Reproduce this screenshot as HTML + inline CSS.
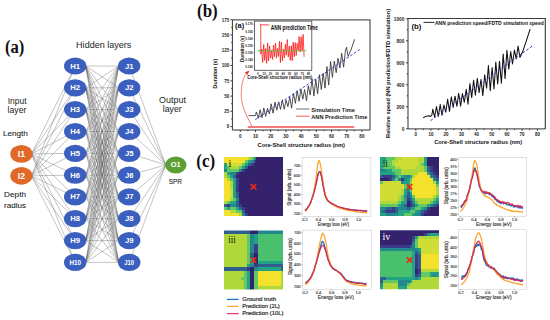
<!DOCTYPE html>
<html><head><meta charset="utf-8"><style>
html,body{margin:0;padding:0;background:#fff;}
svg{display:block;font-family:"Liberation Sans",sans-serif;}
</style></head><body>
<svg width="550" height="320" viewBox="0 0 550 320">
<rect width="550" height="320" fill="#fff"/>
<g stroke="#5a5a5a" stroke-width="0.45" fill="none" stroke-opacity="0.8">
<line x1="31.4" y1="153.9" x2="75.2" y2="66.0"/>
<line x1="31.4" y1="153.9" x2="75.2" y2="87.8"/>
<line x1="31.4" y1="153.9" x2="75.2" y2="109.6"/>
<line x1="31.4" y1="153.9" x2="75.2" y2="131.5"/>
<line x1="31.4" y1="153.9" x2="75.2" y2="153.3"/>
<line x1="31.4" y1="153.9" x2="75.2" y2="175.1"/>
<line x1="31.4" y1="153.9" x2="75.2" y2="196.9"/>
<line x1="31.4" y1="153.9" x2="75.2" y2="218.7"/>
<line x1="31.4" y1="153.9" x2="75.2" y2="240.6"/>
<line x1="31.4" y1="153.9" x2="75.2" y2="262.4"/>
<line x1="31.4" y1="175.8" x2="75.2" y2="66.0"/>
<line x1="31.4" y1="175.8" x2="75.2" y2="87.8"/>
<line x1="31.4" y1="175.8" x2="75.2" y2="109.6"/>
<line x1="31.4" y1="175.8" x2="75.2" y2="131.5"/>
<line x1="31.4" y1="175.8" x2="75.2" y2="153.3"/>
<line x1="31.4" y1="175.8" x2="75.2" y2="175.1"/>
<line x1="31.4" y1="175.8" x2="75.2" y2="196.9"/>
<line x1="31.4" y1="175.8" x2="75.2" y2="218.7"/>
<line x1="31.4" y1="175.8" x2="75.2" y2="240.6"/>
<line x1="31.4" y1="175.8" x2="75.2" y2="262.4"/>
<line x1="85.7" y1="66.0" x2="118.7" y2="66.0"/>
<line x1="85.7" y1="66.0" x2="118.7" y2="87.8"/>
<line x1="85.7" y1="66.0" x2="118.7" y2="109.6"/>
<line x1="85.7" y1="66.0" x2="118.7" y2="131.5"/>
<line x1="85.7" y1="66.0" x2="118.7" y2="153.3"/>
<line x1="85.7" y1="66.0" x2="118.7" y2="175.1"/>
<line x1="85.7" y1="66.0" x2="118.7" y2="196.9"/>
<line x1="85.7" y1="66.0" x2="118.7" y2="218.7"/>
<line x1="85.7" y1="66.0" x2="118.7" y2="240.6"/>
<line x1="85.7" y1="66.0" x2="118.7" y2="262.4"/>
<line x1="85.7" y1="87.8" x2="118.7" y2="66.0"/>
<line x1="85.7" y1="87.8" x2="118.7" y2="87.8"/>
<line x1="85.7" y1="87.8" x2="118.7" y2="109.6"/>
<line x1="85.7" y1="87.8" x2="118.7" y2="131.5"/>
<line x1="85.7" y1="87.8" x2="118.7" y2="153.3"/>
<line x1="85.7" y1="87.8" x2="118.7" y2="175.1"/>
<line x1="85.7" y1="87.8" x2="118.7" y2="196.9"/>
<line x1="85.7" y1="87.8" x2="118.7" y2="218.7"/>
<line x1="85.7" y1="87.8" x2="118.7" y2="240.6"/>
<line x1="85.7" y1="87.8" x2="118.7" y2="262.4"/>
<line x1="85.7" y1="109.6" x2="118.7" y2="66.0"/>
<line x1="85.7" y1="109.6" x2="118.7" y2="87.8"/>
<line x1="85.7" y1="109.6" x2="118.7" y2="109.6"/>
<line x1="85.7" y1="109.6" x2="118.7" y2="131.5"/>
<line x1="85.7" y1="109.6" x2="118.7" y2="153.3"/>
<line x1="85.7" y1="109.6" x2="118.7" y2="175.1"/>
<line x1="85.7" y1="109.6" x2="118.7" y2="196.9"/>
<line x1="85.7" y1="109.6" x2="118.7" y2="218.7"/>
<line x1="85.7" y1="109.6" x2="118.7" y2="240.6"/>
<line x1="85.7" y1="109.6" x2="118.7" y2="262.4"/>
<line x1="85.7" y1="131.5" x2="118.7" y2="66.0"/>
<line x1="85.7" y1="131.5" x2="118.7" y2="87.8"/>
<line x1="85.7" y1="131.5" x2="118.7" y2="109.6"/>
<line x1="85.7" y1="131.5" x2="118.7" y2="131.5"/>
<line x1="85.7" y1="131.5" x2="118.7" y2="153.3"/>
<line x1="85.7" y1="131.5" x2="118.7" y2="175.1"/>
<line x1="85.7" y1="131.5" x2="118.7" y2="196.9"/>
<line x1="85.7" y1="131.5" x2="118.7" y2="218.7"/>
<line x1="85.7" y1="131.5" x2="118.7" y2="240.6"/>
<line x1="85.7" y1="131.5" x2="118.7" y2="262.4"/>
<line x1="85.7" y1="153.3" x2="118.7" y2="66.0"/>
<line x1="85.7" y1="153.3" x2="118.7" y2="87.8"/>
<line x1="85.7" y1="153.3" x2="118.7" y2="109.6"/>
<line x1="85.7" y1="153.3" x2="118.7" y2="131.5"/>
<line x1="85.7" y1="153.3" x2="118.7" y2="153.3"/>
<line x1="85.7" y1="153.3" x2="118.7" y2="175.1"/>
<line x1="85.7" y1="153.3" x2="118.7" y2="196.9"/>
<line x1="85.7" y1="153.3" x2="118.7" y2="218.7"/>
<line x1="85.7" y1="153.3" x2="118.7" y2="240.6"/>
<line x1="85.7" y1="153.3" x2="118.7" y2="262.4"/>
<line x1="85.7" y1="175.1" x2="118.7" y2="66.0"/>
<line x1="85.7" y1="175.1" x2="118.7" y2="87.8"/>
<line x1="85.7" y1="175.1" x2="118.7" y2="109.6"/>
<line x1="85.7" y1="175.1" x2="118.7" y2="131.5"/>
<line x1="85.7" y1="175.1" x2="118.7" y2="153.3"/>
<line x1="85.7" y1="175.1" x2="118.7" y2="175.1"/>
<line x1="85.7" y1="175.1" x2="118.7" y2="196.9"/>
<line x1="85.7" y1="175.1" x2="118.7" y2="218.7"/>
<line x1="85.7" y1="175.1" x2="118.7" y2="240.6"/>
<line x1="85.7" y1="175.1" x2="118.7" y2="262.4"/>
<line x1="85.7" y1="196.9" x2="118.7" y2="66.0"/>
<line x1="85.7" y1="196.9" x2="118.7" y2="87.8"/>
<line x1="85.7" y1="196.9" x2="118.7" y2="109.6"/>
<line x1="85.7" y1="196.9" x2="118.7" y2="131.5"/>
<line x1="85.7" y1="196.9" x2="118.7" y2="153.3"/>
<line x1="85.7" y1="196.9" x2="118.7" y2="175.1"/>
<line x1="85.7" y1="196.9" x2="118.7" y2="196.9"/>
<line x1="85.7" y1="196.9" x2="118.7" y2="218.7"/>
<line x1="85.7" y1="196.9" x2="118.7" y2="240.6"/>
<line x1="85.7" y1="196.9" x2="118.7" y2="262.4"/>
<line x1="85.7" y1="218.7" x2="118.7" y2="66.0"/>
<line x1="85.7" y1="218.7" x2="118.7" y2="87.8"/>
<line x1="85.7" y1="218.7" x2="118.7" y2="109.6"/>
<line x1="85.7" y1="218.7" x2="118.7" y2="131.5"/>
<line x1="85.7" y1="218.7" x2="118.7" y2="153.3"/>
<line x1="85.7" y1="218.7" x2="118.7" y2="175.1"/>
<line x1="85.7" y1="218.7" x2="118.7" y2="196.9"/>
<line x1="85.7" y1="218.7" x2="118.7" y2="218.7"/>
<line x1="85.7" y1="218.7" x2="118.7" y2="240.6"/>
<line x1="85.7" y1="218.7" x2="118.7" y2="262.4"/>
<line x1="85.7" y1="240.6" x2="118.7" y2="66.0"/>
<line x1="85.7" y1="240.6" x2="118.7" y2="87.8"/>
<line x1="85.7" y1="240.6" x2="118.7" y2="109.6"/>
<line x1="85.7" y1="240.6" x2="118.7" y2="131.5"/>
<line x1="85.7" y1="240.6" x2="118.7" y2="153.3"/>
<line x1="85.7" y1="240.6" x2="118.7" y2="175.1"/>
<line x1="85.7" y1="240.6" x2="118.7" y2="196.9"/>
<line x1="85.7" y1="240.6" x2="118.7" y2="218.7"/>
<line x1="85.7" y1="240.6" x2="118.7" y2="240.6"/>
<line x1="85.7" y1="240.6" x2="118.7" y2="262.4"/>
<line x1="85.7" y1="262.4" x2="118.7" y2="66.0"/>
<line x1="85.7" y1="262.4" x2="118.7" y2="87.8"/>
<line x1="85.7" y1="262.4" x2="118.7" y2="109.6"/>
<line x1="85.7" y1="262.4" x2="118.7" y2="131.5"/>
<line x1="85.7" y1="262.4" x2="118.7" y2="153.3"/>
<line x1="85.7" y1="262.4" x2="118.7" y2="175.1"/>
<line x1="85.7" y1="262.4" x2="118.7" y2="196.9"/>
<line x1="85.7" y1="262.4" x2="118.7" y2="218.7"/>
<line x1="85.7" y1="262.4" x2="118.7" y2="240.6"/>
<line x1="85.7" y1="262.4" x2="118.7" y2="262.4"/>
<line x1="129.2" y1="66.0" x2="165.8" y2="165.0"/>
<line x1="129.2" y1="87.8" x2="165.8" y2="165.0"/>
<line x1="129.2" y1="109.6" x2="165.8" y2="165.0"/>
<line x1="129.2" y1="131.5" x2="165.8" y2="165.0"/>
<line x1="129.2" y1="153.3" x2="165.8" y2="165.0"/>
<line x1="129.2" y1="175.1" x2="165.8" y2="165.0"/>
<line x1="129.2" y1="196.9" x2="165.8" y2="165.0"/>
<line x1="129.2" y1="218.7" x2="165.8" y2="165.0"/>
<line x1="129.2" y1="240.6" x2="165.8" y2="165.0"/>
<line x1="129.2" y1="262.4" x2="165.8" y2="165.0"/>
</g>
<ellipse cx="75.2" cy="66.0" rx="11.2" ry="8.6" fill="#3b5fbf"/>
<text x="75.2" y="68.5" font-size="6.9" fill="#fff" font-weight="bold" text-anchor="middle" textLength="9.8" lengthAdjust="spacingAndGlyphs">H1</text>
<ellipse cx="129.2" cy="66.0" rx="11.2" ry="8.6" fill="#3b5fbf"/>
<text x="129.2" y="68.5" font-size="6.9" fill="#fff" font-weight="bold" text-anchor="middle" textLength="8.6" lengthAdjust="spacingAndGlyphs">J1</text>
<ellipse cx="75.2" cy="87.8" rx="11.2" ry="8.6" fill="#3b5fbf"/>
<text x="75.2" y="90.3" font-size="6.9" fill="#fff" font-weight="bold" text-anchor="middle" textLength="9.8" lengthAdjust="spacingAndGlyphs">H2</text>
<ellipse cx="129.2" cy="87.8" rx="11.2" ry="8.6" fill="#3b5fbf"/>
<text x="129.2" y="90.3" font-size="6.9" fill="#fff" font-weight="bold" text-anchor="middle" textLength="8.6" lengthAdjust="spacingAndGlyphs">J2</text>
<ellipse cx="75.2" cy="109.6" rx="11.2" ry="8.6" fill="#3b5fbf"/>
<text x="75.2" y="112.1" font-size="6.9" fill="#fff" font-weight="bold" text-anchor="middle" textLength="9.8" lengthAdjust="spacingAndGlyphs">H3</text>
<ellipse cx="129.2" cy="109.6" rx="11.2" ry="8.6" fill="#3b5fbf"/>
<text x="129.2" y="112.1" font-size="6.9" fill="#fff" font-weight="bold" text-anchor="middle" textLength="8.6" lengthAdjust="spacingAndGlyphs">J3</text>
<ellipse cx="75.2" cy="131.5" rx="11.2" ry="8.6" fill="#3b5fbf"/>
<text x="75.2" y="134.0" font-size="6.9" fill="#fff" font-weight="bold" text-anchor="middle" textLength="9.8" lengthAdjust="spacingAndGlyphs">H4</text>
<ellipse cx="129.2" cy="131.5" rx="11.2" ry="8.6" fill="#3b5fbf"/>
<text x="129.2" y="134.0" font-size="6.9" fill="#fff" font-weight="bold" text-anchor="middle" textLength="8.6" lengthAdjust="spacingAndGlyphs">J4</text>
<ellipse cx="75.2" cy="153.3" rx="11.2" ry="8.6" fill="#3b5fbf"/>
<text x="75.2" y="155.8" font-size="6.9" fill="#fff" font-weight="bold" text-anchor="middle" textLength="9.8" lengthAdjust="spacingAndGlyphs">H5</text>
<ellipse cx="129.2" cy="153.3" rx="11.2" ry="8.6" fill="#3b5fbf"/>
<text x="129.2" y="155.8" font-size="6.9" fill="#fff" font-weight="bold" text-anchor="middle" textLength="8.6" lengthAdjust="spacingAndGlyphs">J5</text>
<ellipse cx="75.2" cy="175.1" rx="11.2" ry="8.6" fill="#3b5fbf"/>
<text x="75.2" y="177.6" font-size="6.9" fill="#fff" font-weight="bold" text-anchor="middle" textLength="9.8" lengthAdjust="spacingAndGlyphs">H6</text>
<ellipse cx="129.2" cy="175.1" rx="11.2" ry="8.6" fill="#3b5fbf"/>
<text x="129.2" y="177.6" font-size="6.9" fill="#fff" font-weight="bold" text-anchor="middle" textLength="8.6" lengthAdjust="spacingAndGlyphs">J6</text>
<ellipse cx="75.2" cy="196.9" rx="11.2" ry="8.6" fill="#3b5fbf"/>
<text x="75.2" y="199.4" font-size="6.9" fill="#fff" font-weight="bold" text-anchor="middle" textLength="9.8" lengthAdjust="spacingAndGlyphs">H7</text>
<ellipse cx="129.2" cy="196.9" rx="11.2" ry="8.6" fill="#3b5fbf"/>
<text x="129.2" y="199.4" font-size="6.9" fill="#fff" font-weight="bold" text-anchor="middle" textLength="8.6" lengthAdjust="spacingAndGlyphs">J7</text>
<ellipse cx="75.2" cy="218.7" rx="11.2" ry="8.6" fill="#3b5fbf"/>
<text x="75.2" y="221.2" font-size="6.9" fill="#fff" font-weight="bold" text-anchor="middle" textLength="9.8" lengthAdjust="spacingAndGlyphs">H8</text>
<ellipse cx="129.2" cy="218.7" rx="11.2" ry="8.6" fill="#3b5fbf"/>
<text x="129.2" y="221.2" font-size="6.9" fill="#fff" font-weight="bold" text-anchor="middle" textLength="8.6" lengthAdjust="spacingAndGlyphs">J8</text>
<ellipse cx="75.2" cy="240.6" rx="11.2" ry="8.6" fill="#3b5fbf"/>
<text x="75.2" y="243.1" font-size="6.9" fill="#fff" font-weight="bold" text-anchor="middle" textLength="9.8" lengthAdjust="spacingAndGlyphs">H9</text>
<ellipse cx="129.2" cy="240.6" rx="11.2" ry="8.6" fill="#3b5fbf"/>
<text x="129.2" y="243.1" font-size="6.9" fill="#fff" font-weight="bold" text-anchor="middle" textLength="8.6" lengthAdjust="spacingAndGlyphs">J9</text>
<ellipse cx="75.2" cy="262.4" rx="11.2" ry="8.6" fill="#3b5fbf"/>
<text x="75.2" y="264.7" font-size="6.4" fill="#fff" font-weight="bold" text-anchor="middle" textLength="11.6" lengthAdjust="spacingAndGlyphs">H10</text>
<ellipse cx="129.2" cy="262.4" rx="11.2" ry="8.6" fill="#3b5fbf"/>
<text x="129.2" y="264.7" font-size="6.4" fill="#fff" font-weight="bold" text-anchor="middle" textLength="9.8" lengthAdjust="spacingAndGlyphs">J10</text>
<ellipse cx="21.4" cy="153.9" rx="11.1" ry="8.9" fill="#e0692a"/>
<text x="21.4" y="157.1" font-size="8.8" fill="#fff" font-weight="bold" text-anchor="middle" textLength="7.2" lengthAdjust="spacingAndGlyphs">I1</text>
<ellipse cx="21.4" cy="175.8" rx="11.1" ry="8.9" fill="#e0692a"/>
<text x="21.4" y="179.0" font-size="8.8" fill="#fff" font-weight="bold" text-anchor="middle" textLength="7.2" lengthAdjust="spacingAndGlyphs">I2</text>
<ellipse cx="175.8" cy="165.0" rx="10.7" ry="8.6" fill="#5c9f32"/>
<text x="175.8" y="167.4" font-size="6.9" fill="#fff" font-weight="bold" text-anchor="middle" textLength="10" lengthAdjust="spacingAndGlyphs">O1</text>
<text x="76.1" y="47.6" font-size="9" fill="#222" textLength="55.3" lengthAdjust="spacingAndGlyphs">Hidden layers</text>
<text x="7.75" y="103.75" font-size="8.2" fill="#222" textLength="18.75" lengthAdjust="spacingAndGlyphs">Input</text>
<text x="7.6" y="112.75" font-size="8.2" fill="#222" textLength="18.8" lengthAdjust="spacingAndGlyphs">layer</text>
<text x="2.9" y="135.6" font-size="7.2" fill="#222" textLength="25" lengthAdjust="spacingAndGlyphs" stroke="#222" stroke-width="0.08">Length</text>
<text x="4.1" y="197" font-size="7.3" fill="#222" textLength="21.9" lengthAdjust="spacingAndGlyphs" stroke="#222" stroke-width="0.08">Depth</text>
<text x="4.1" y="208" font-size="7.3" fill="#222" textLength="21.9" lengthAdjust="spacingAndGlyphs" stroke="#222" stroke-width="0.08">radius</text>
<text x="159.1" y="103" font-size="8.2" fill="#222" textLength="26.8" lengthAdjust="spacingAndGlyphs">Output</text>
<text x="162.7" y="112.3" font-size="8.2" fill="#222" textLength="19.1" lengthAdjust="spacingAndGlyphs">layer</text>
<text x="168.75" y="183.75" font-size="6.9" fill="#222" textLength="13.1" lengthAdjust="spacingAndGlyphs" stroke="#222" stroke-width="0.08">SPR</text>
<text x="5" y="53.3" font-size="19.3" font-weight="bold" fill="#111" textLength="19.4" lengthAdjust="spacingAndGlyphs" style='font-family:"Liberation Serif",serif'>(a)</text>
<text x="197" y="17.4" font-size="19.6" font-weight="bold" fill="#111" textLength="20.7" lengthAdjust="spacingAndGlyphs" style='font-family:"Liberation Serif",serif'>(b)</text>
<text x="196.3" y="167" font-size="19.4" font-weight="bold" fill="#111" textLength="18.75" lengthAdjust="spacingAndGlyphs" style='font-family:"Liberation Serif",serif'>(c)</text>
<path d="M232.4 19.8H370.0V130.0" fill="none" stroke="#5a5a5a" stroke-width="1.25"/>
<path d="M232.4 19.8V130.0H370.0" fill="none" stroke="#333" stroke-width="1"/>
<text x="229.3" y="128.3" font-size="4.8" fill="#222" font-weight="bold" text-anchor="end" textLength="2.5" lengthAdjust="spacingAndGlyphs">0</text>
<text x="229.3" y="113.1" font-size="4.8" fill="#222" font-weight="bold" text-anchor="end" textLength="5.0" lengthAdjust="spacingAndGlyphs">25</text>
<text x="229.3" y="97.8" font-size="4.8" fill="#222" font-weight="bold" text-anchor="end" textLength="5.0" lengthAdjust="spacingAndGlyphs">50</text>
<text x="229.3" y="82.5" font-size="4.8" fill="#222" font-weight="bold" text-anchor="end" textLength="5.0" lengthAdjust="spacingAndGlyphs">75</text>
<text x="229.3" y="67.3" font-size="4.8" fill="#222" font-weight="bold" text-anchor="end" textLength="7.5" lengthAdjust="spacingAndGlyphs">100</text>
<text x="229.3" y="52.0" font-size="4.8" fill="#222" font-weight="bold" text-anchor="end" textLength="7.5" lengthAdjust="spacingAndGlyphs">125</text>
<text x="229.3" y="36.7" font-size="4.8" fill="#222" font-weight="bold" text-anchor="end" textLength="7.5" lengthAdjust="spacingAndGlyphs">150</text>
<text x="229.3" y="21.5" font-size="4.8" fill="#222" font-weight="bold" text-anchor="end" textLength="7.5" lengthAdjust="spacingAndGlyphs">175</text>
<text x="240.3" y="138.1" font-size="4.6" fill="#222" font-weight="bold" text-anchor="middle">0</text>
<text x="255.5" y="138.1" font-size="4.6" fill="#222" font-weight="bold" text-anchor="middle">10</text>
<text x="270.7" y="138.1" font-size="4.6" fill="#222" font-weight="bold" text-anchor="middle">20</text>
<text x="285.9" y="138.1" font-size="4.6" fill="#222" font-weight="bold" text-anchor="middle">30</text>
<text x="301.1" y="138.1" font-size="4.6" fill="#222" font-weight="bold" text-anchor="middle">40</text>
<text x="316.3" y="138.1" font-size="4.6" fill="#222" font-weight="bold" text-anchor="middle">50</text>
<text x="331.5" y="138.1" font-size="4.6" fill="#222" font-weight="bold" text-anchor="middle">60</text>
<text x="346.7" y="138.1" font-size="4.6" fill="#222" font-weight="bold" text-anchor="middle">70</text>
<text x="361.9" y="138.1" font-size="4.6" fill="#222" font-weight="bold" text-anchor="middle">80</text>
<path d="M232.4 126.6h-2 M232.4 119.0h-1.2 M232.4 111.3h-2 M232.4 103.7h-1.2 M232.4 96.1h-2 M232.4 88.4h-1.2 M232.4 80.8h-2 M232.4 73.2h-1.2 M232.4 65.5h-2 M232.4 57.9h-1.2 M232.4 50.2h-2 M232.4 42.6h-1.2 M232.4 35.0h-2 M232.4 27.3h-1.2 M232.4 19.7h-2 M240.3 130.0v2 M247.9 130.0v1.2 M255.5 130.0v2 M263.1 130.0v1.2 M270.7 130.0v2 M278.3 130.0v1.2 M285.9 130.0v2 M293.5 130.0v1.2 M301.1 130.0v2 M308.7 130.0v1.2 M316.3 130.0v2 M323.9 130.0v1.2 M331.5 130.0v2 M339.1 130.0v1.2 M346.7 130.0v2 M354.3 130.0v1.2 M361.9 130.0v2" stroke="#222" stroke-width="0.85"/>
<text x="257.6" y="146.5" font-size="6.2" fill="#111" font-weight="bold" textLength="87.4" lengthAdjust="spacingAndGlyphs">Core-Shell structure radius (nm)</text>
<text transform="translate(216.7 73.6) rotate(-90)" font-size="5.6" fill="#111" font-weight="bold" text-anchor="middle" textLength="29.6" lengthAdjust="spacingAndGlyphs">Duration (s)</text>
<polyline fill="none" stroke="#333" stroke-width="0.85" stroke-linejoin="round" points="248.7,115.6 255.5,115.6 256.4,111.9 258.3,118.3 260.1,109.7 262.0,117.6 263.8,108.0 265.7,116.4 267.5,108.3 269.4,113.9 271.2,103.8 273.1,113.2 275.0,102.1 276.8,110.2 278.7,101.8 280.5,109.4 282.4,99.8 284.2,109.3 286.1,100.1 287.9,106.7 289.8,97.2 291.6,108.2 293.5,93.1 295.4,103.3 297.2,90.7 299.1,101.3 300.9,89.1 302.8,99.2 304.6,89.6 306.5,100.8 308.3,85.8 310.2,95.1 312.0,78.8 313.9,96.1 315.8,79.4 317.6,94.0 319.5,74.7 321.3,89.5 323.2,73.2 325.0,88.1 326.9,66.6 328.7,85.1 330.6,61.5 332.4,77.4 334.3,61.0 336.2,72.7 338.0,58.4 339.9,68.0 341.7,53.3 343.6,67.2 345.4,50.9 346.5,47.2 348.1,56.4 351.3,49.0 354.5,39.3"/>
<line x1="255.3" y1="119.6" x2="360.1" y2="49.3" stroke="#3040c8" stroke-width="1" stroke-dasharray="2.6,1.8"/>
<line x1="247.8" y1="127" x2="354.3" y2="127" stroke="#f05050" stroke-width="1.5"/>
<line x1="296.2" y1="109" x2="309.3" y2="109" stroke="#444" stroke-width="0.8"/>
<text x="311.3" y="111.5" font-size="5.9" fill="#1a1a1a" font-weight="bold" textLength="43.6" lengthAdjust="spacingAndGlyphs">Simulation Time</text>
<line x1="296.2" y1="116.2" x2="309.3" y2="116.2" stroke="#e83030" stroke-width="0.8"/>
<text x="311.3" y="118.5" font-size="5.9" fill="#1a1a1a" font-weight="bold" textLength="56" lengthAdjust="spacingAndGlyphs">ANN Prediction Time</text>
<path d="M252 126.5 C 246 115, 241.2 105, 241.2 95 C 241.2 85, 243 78, 246.5 73.5" fill="none" stroke="#f25a5a" stroke-width="0.8"/>
<path d="M249.6 70.6 L244.8 72.2 L247.3 75 Z" fill="#f03030"/>
<rect x="254.4" y="21.1" width="57.400000000000006" height="49.199999999999996" fill="#fff" stroke="#444" stroke-width="0.8"/>
<text x="252.8" y="25.4" font-size="3.0" fill="#222" font-weight="bold" text-anchor="end">0.170</text>
<text x="252.8" y="32.5" font-size="3.0" fill="#222" font-weight="bold" text-anchor="end">0.165</text>
<text x="252.8" y="39.5" font-size="3.0" fill="#222" font-weight="bold" text-anchor="end">0.160</text>
<text x="252.8" y="46.5" font-size="3.0" fill="#222" font-weight="bold" text-anchor="end">0.155</text>
<text x="252.8" y="53.5" font-size="3.0" fill="#222" font-weight="bold" text-anchor="end">0.150</text>
<text x="252.8" y="60.6" font-size="3.0" fill="#222" font-weight="bold" text-anchor="end">0.145</text>
<text x="252.8" y="67.6" font-size="3.0" fill="#222" font-weight="bold" text-anchor="end">0.140</text>
<text x="257.8" y="74.9" font-size="3.0" fill="#222" font-weight="bold" text-anchor="middle">0</text>
<text x="264.2" y="74.9" font-size="3.0" fill="#222" font-weight="bold" text-anchor="middle">10</text>
<text x="270.5" y="74.9" font-size="3.0" fill="#222" font-weight="bold" text-anchor="middle">20</text>
<text x="276.9" y="74.9" font-size="3.0" fill="#222" font-weight="bold" text-anchor="middle">30</text>
<text x="283.2" y="74.9" font-size="3.0" fill="#222" font-weight="bold" text-anchor="middle">40</text>
<text x="289.6" y="74.9" font-size="3.0" fill="#222" font-weight="bold" text-anchor="middle">50</text>
<text x="295.9" y="74.9" font-size="3.0" fill="#222" font-weight="bold" text-anchor="middle">60</text>
<text x="302.2" y="74.9" font-size="3.0" fill="#222" font-weight="bold" text-anchor="middle">70</text>
<text x="308.6" y="74.9" font-size="3.0" fill="#222" font-weight="bold" text-anchor="middle">80</text>
<path d="M254.4 24.4h-1 M254.4 31.5h-1 M254.4 38.5h-1 M254.4 45.5h-1 M254.4 52.5h-1 M254.4 59.6h-1 M254.4 66.6h-1 M257.8 70.3v1 M264.2 70.3v1 M270.5 70.3v1 M276.9 70.3v1 M283.2 70.3v1 M289.6 70.3v1 M295.9 70.3v1 M302.2 70.3v1 M308.6 70.3v1" stroke="#444" stroke-width="0.4"/>
<text x="247.2" y="78.9" font-size="4.8" fill="#111" font-weight="bold" textLength="65" lengthAdjust="spacingAndGlyphs">Core-Shell structure radius (nm)</text>
<text transform="translate(243.7 49) rotate(-90)" font-size="4.6" fill="#111" font-weight="bold" text-anchor="middle" textLength="26" lengthAdjust="spacingAndGlyphs">Duration (s)</text>
<text x="235" y="28.3" font-size="7.6" fill="#111" font-weight="bold">(a)</text>
<polyline fill="none" stroke="#ff1a1a" stroke-width="0.8" points="260.7,23.7 260.8,54.2 261.7,48.9 262.7,62.4 263.7,44.6 264.7,60.4 265.7,48.5 266.7,63.3 267.6,43.0 268.6,60.7 269.6,45.8 270.6,58.2 271.6,50.4 272.6,59.4 273.5,45.1 274.5,56.7 275.5,43.2 276.5,58.2 277.5,48.3 278.5,56.4 279.5,41.3 280.4,62.7 281.4,42.0 282.4,60.9 283.4,49.1 284.4,57.7 285.4,44.2 286.3,55.2 287.3,39.5 288.3,56.9 289.3,46.1 290.3,60.3 291.3,45.8 292.2,60.7 293.2,42.2 294.2,56.7 295.2,42.6 296.2,55.5 297.2,43.4 298.2,50.8 299.1,36.6 300.1,52.0 301.1,36.8 302.1,51.1 303.1,34.4 304.1,56.8"/>
<line x1="258" y1="50.8" x2="306" y2="50.8" stroke="#22dd22" stroke-width="1" stroke-dasharray="2.6,1.6"/>
<line x1="260.5" y1="24.9" x2="269.4" y2="24.9" stroke="#ff1a1a" stroke-width="0.8"/>
<text x="270.8" y="29.8" font-size="6.8" fill="#111" font-weight="bold" textLength="47.2" lengthAdjust="spacingAndGlyphs">ANN prediction Time</text>
<path d="M408.0 18.5H545.3V128.9" fill="none" stroke="#3a3a3a" stroke-width="1.1"/>
<path d="M408.0 18.5V128.9H545.3" fill="none" stroke="#333" stroke-width="1"/>
<text x="404.3" y="131.2" font-size="4.7" fill="#222" font-weight="bold" text-anchor="end">0</text>
<text x="404.3" y="109.2" font-size="4.7" fill="#222" font-weight="bold" text-anchor="end">200</text>
<text x="404.3" y="87.2" font-size="4.7" fill="#222" font-weight="bold" text-anchor="end">400</text>
<text x="404.3" y="65.2" font-size="4.7" fill="#222" font-weight="bold" text-anchor="end">600</text>
<text x="404.3" y="43.1" font-size="4.7" fill="#222" font-weight="bold" text-anchor="end">800</text>
<text x="404.3" y="21.1" font-size="4.7" fill="#222" font-weight="bold" text-anchor="end">1000</text>
<text x="415.8" y="135.7" font-size="4.5" fill="#222" font-weight="bold" text-anchor="middle">0</text>
<text x="430.9" y="135.7" font-size="4.5" fill="#222" font-weight="bold" text-anchor="middle">10</text>
<text x="446.1" y="135.7" font-size="4.5" fill="#222" font-weight="bold" text-anchor="middle">20</text>
<text x="461.4" y="135.7" font-size="4.5" fill="#222" font-weight="bold" text-anchor="middle">30</text>
<text x="476.6" y="135.7" font-size="4.5" fill="#222" font-weight="bold" text-anchor="middle">40</text>
<text x="491.8" y="135.7" font-size="4.5" fill="#222" font-weight="bold" text-anchor="middle">50</text>
<text x="506.9" y="135.7" font-size="4.5" fill="#222" font-weight="bold" text-anchor="middle">60</text>
<text x="522.1" y="135.7" font-size="4.5" fill="#222" font-weight="bold" text-anchor="middle">70</text>
<text x="537.4" y="135.7" font-size="4.5" fill="#222" font-weight="bold" text-anchor="middle">80</text>
<path d="M408.0 128.8h-2 M408.0 117.8h-1.2 M408.0 106.8h-2 M408.0 95.8h-1.2 M408.0 84.8h-2 M408.0 73.8h-1.2 M408.0 62.8h-2 M408.0 51.8h-1.2 M408.0 40.8h-2 M408.0 29.8h-1.2 M408.0 18.8h-2 M415.8 128.9v2 M423.4 128.9v1.2 M430.9 128.9v2 M438.6 128.9v1.2 M446.1 128.9v2 M453.8 128.9v1.2 M461.4 128.9v2 M468.9 128.9v1.2 M476.6 128.9v2 M484.1 128.9v1.2 M491.8 128.9v2 M499.4 128.9v1.2 M506.9 128.9v2 M514.5 128.9v1.2 M522.1 128.9v2 M529.8 128.9v1.2 M537.4 128.9v2" stroke="#222" stroke-width="0.85"/>
<text x="434.2" y="143.8" font-size="6.2" fill="#111" font-weight="bold" textLength="87.9" lengthAdjust="spacingAndGlyphs">Core-Shell structure radius (nm)</text>
<text transform="translate(389.6 73.4) rotate(-90)" font-size="5.7" fill="#111" font-weight="bold" text-anchor="middle" textLength="129" lengthAdjust="spacingAndGlyphs">Relative speed (NN prediction/FDTD simulation)</text>
<polyline fill="none" stroke="#111" stroke-width="1.05" stroke-linejoin="round" points="423.2,117.8 425.6,116.4 428.7,115.8 430.6,116.4 431.9,115.0 432.8,109.2 434.6,117.0 436.5,106.6 438.3,116.5 440.2,104.6 442.0,115.3 443.9,105.0 445.8,112.2 447.6,99.2 449.5,111.5 451.3,96.8 453.2,107.5 455.0,96.2 456.9,106.3 458.7,93.3 460.6,106.1 462.4,93.5 464.3,102.3 466.2,89.3 468.0,104.3 469.9,83.6 471.7,97.7 473.6,80.3 475.4,95.2 477.3,78.4 479.1,92.8 481.0,79.4 482.8,95.6 484.7,74.8 486.6,88.3 488.4,65.6 490.3,90.8 492.1,67.5 494.0,88.9 495.8,62.0 497.7,83.9 499.5,61.2 501.4,83.2 503.2,54.1 505.1,78.8 506.9,50.2 508.8,69.2 510.7,51.5 512.5,64.0 514.4,50.0 516.2,59.0 518.1,46.1 519.9,57.4 522.5,52.1 526.0,41.8 530.1,29.2"/>
<line x1="430.6" y1="120.6" x2="533.7" y2="45.0" stroke="#3040c8" stroke-width="1" stroke-dasharray="2.6,1.8"/>
<line x1="423.5" y1="22.4" x2="434.5" y2="22.4" stroke="#111" stroke-width="0.9"/>
<text x="435" y="24.9" font-size="5.0" fill="#111" font-weight="bold" textLength="108.7" lengthAdjust="spacingAndGlyphs">ANN prediction speed/FDTD simulation speed</text>
<text x="411.5" y="28.8" font-size="7.8" fill="#111" font-weight="bold">(b)</text>
<filter id="hb" x="-5%" y="-5%" width="110%" height="110%"><feGaussianBlur stdDeviation="0.55" edgeMode="duplicate"/></filter>
<clipPath id="c224157"><rect x="224" y="157" width="59" height="59"/></clipPath>
<g clip-path="url(#c224157)"><g filter="url(#hb)"><g shape-rendering="crispEdges">
<rect x="224.00" y="157.00" width="24.20" height="3.55" fill="#f4e12e"/>
<rect x="247.60" y="157.00" width="3.55" height="3.55" fill="#b0d83a"/>
<rect x="250.55" y="157.00" width="3.55" height="3.55" fill="#62c862"/>
<rect x="253.50" y="157.00" width="3.55" height="3.55" fill="#23888e"/>
<rect x="256.45" y="157.00" width="27.15" height="3.55" fill="#35206c"/>
<rect x="224.00" y="159.95" width="21.25" height="3.55" fill="#f4e12e"/>
<rect x="244.65" y="159.95" width="3.55" height="3.55" fill="#62c862"/>
<rect x="247.60" y="159.95" width="3.55" height="3.55" fill="#22a386"/>
<rect x="250.55" y="159.95" width="3.55" height="3.55" fill="#23888e"/>
<rect x="253.50" y="159.95" width="3.55" height="3.55" fill="#3b3a8c"/>
<rect x="256.45" y="159.95" width="27.15" height="3.55" fill="#35206c"/>
<rect x="224.00" y="162.90" width="3.55" height="3.55" fill="#22a386"/>
<rect x="226.95" y="162.90" width="15.35" height="3.55" fill="#d0dd36"/>
<rect x="241.70" y="162.90" width="3.55" height="3.55" fill="#62c862"/>
<rect x="244.65" y="162.90" width="3.55" height="3.55" fill="#22a386"/>
<rect x="247.60" y="162.90" width="3.55" height="3.55" fill="#2f5e8e"/>
<rect x="250.55" y="162.90" width="3.55" height="3.55" fill="#3b3a8c"/>
<rect x="253.50" y="162.90" width="30.10" height="3.55" fill="#35206c"/>
<rect x="224.00" y="165.85" width="3.55" height="3.55" fill="#22a386"/>
<rect x="226.95" y="165.85" width="3.55" height="3.55" fill="#62c862"/>
<rect x="229.90" y="165.85" width="9.45" height="3.55" fill="#b0d83a"/>
<rect x="238.75" y="165.85" width="3.55" height="3.55" fill="#62c862"/>
<rect x="241.70" y="165.85" width="3.55" height="3.55" fill="#22a386"/>
<rect x="244.65" y="165.85" width="3.55" height="3.55" fill="#2f5e8e"/>
<rect x="247.60" y="165.85" width="36.00" height="3.55" fill="#35206c"/>
<rect x="224.00" y="168.80" width="3.55" height="3.55" fill="#23888e"/>
<rect x="226.95" y="168.80" width="12.40" height="3.55" fill="#62c862"/>
<rect x="238.75" y="168.80" width="3.55" height="3.55" fill="#23888e"/>
<rect x="241.70" y="168.80" width="3.55" height="3.55" fill="#3b3a8c"/>
<rect x="244.65" y="168.80" width="38.95" height="3.55" fill="#35206c"/>
<rect x="224.00" y="171.75" width="3.55" height="3.55" fill="#b0d83a"/>
<rect x="226.95" y="171.75" width="3.55" height="3.55" fill="#22a386"/>
<rect x="229.90" y="171.75" width="6.50" height="3.55" fill="#23888e"/>
<rect x="235.80" y="171.75" width="3.55" height="3.55" fill="#3b3a8c"/>
<rect x="238.75" y="171.75" width="44.85" height="3.55" fill="#35206c"/>
<rect x="224.00" y="174.70" width="3.55" height="3.55" fill="#b0d83a"/>
<rect x="226.95" y="174.70" width="3.55" height="3.55" fill="#62c862"/>
<rect x="229.90" y="174.70" width="3.55" height="3.55" fill="#22a386"/>
<rect x="232.85" y="174.70" width="3.55" height="3.55" fill="#2f5e8e"/>
<rect x="235.80" y="174.70" width="47.80" height="3.55" fill="#35206c"/>
<rect x="224.00" y="177.65" width="3.55" height="3.55" fill="#f4e12e"/>
<rect x="226.95" y="177.65" width="3.55" height="3.55" fill="#b0d83a"/>
<rect x="229.90" y="177.65" width="3.55" height="3.55" fill="#62c862"/>
<rect x="232.85" y="177.65" width="3.55" height="3.55" fill="#22a386"/>
<rect x="235.80" y="177.65" width="3.55" height="3.55" fill="#3b3a8c"/>
<rect x="238.75" y="177.65" width="44.85" height="3.55" fill="#35206c"/>
<rect x="224.00" y="180.60" width="6.50" height="3.55" fill="#f4e12e"/>
<rect x="229.90" y="180.60" width="3.55" height="3.55" fill="#b0d83a"/>
<rect x="232.85" y="180.60" width="3.55" height="3.55" fill="#22a386"/>
<rect x="235.80" y="180.60" width="3.55" height="3.55" fill="#3b3a8c"/>
<rect x="238.75" y="180.60" width="44.85" height="3.55" fill="#35206c"/>
<rect x="224.00" y="183.55" width="6.50" height="3.55" fill="#f4e12e"/>
<rect x="229.90" y="183.55" width="3.55" height="3.55" fill="#b0d83a"/>
<rect x="232.85" y="183.55" width="3.55" height="3.55" fill="#22a386"/>
<rect x="235.80" y="183.55" width="3.55" height="3.55" fill="#3b3a8c"/>
<rect x="238.75" y="183.55" width="44.85" height="3.55" fill="#35206c"/>
<rect x="224.00" y="186.50" width="6.50" height="3.55" fill="#f4e12e"/>
<rect x="229.90" y="186.50" width="3.55" height="3.55" fill="#b0d83a"/>
<rect x="232.85" y="186.50" width="3.55" height="3.55" fill="#22a386"/>
<rect x="235.80" y="186.50" width="3.55" height="3.55" fill="#3b3a8c"/>
<rect x="238.75" y="186.50" width="44.85" height="3.55" fill="#35206c"/>
<rect x="224.00" y="189.45" width="6.50" height="3.55" fill="#f4e12e"/>
<rect x="229.90" y="189.45" width="3.55" height="3.55" fill="#d0dd36"/>
<rect x="232.85" y="189.45" width="3.55" height="3.55" fill="#22a386"/>
<rect x="235.80" y="189.45" width="3.55" height="3.55" fill="#3b3a8c"/>
<rect x="238.75" y="189.45" width="44.85" height="3.55" fill="#35206c"/>
<rect x="224.00" y="192.40" width="6.50" height="3.55" fill="#f4e12e"/>
<rect x="229.90" y="192.40" width="3.55" height="3.55" fill="#d0dd36"/>
<rect x="232.85" y="192.40" width="3.55" height="3.55" fill="#22a386"/>
<rect x="235.80" y="192.40" width="3.55" height="3.55" fill="#2f5e8e"/>
<rect x="238.75" y="192.40" width="44.85" height="3.55" fill="#35206c"/>
<rect x="224.00" y="195.35" width="6.50" height="3.55" fill="#f4e12e"/>
<rect x="229.90" y="195.35" width="3.55" height="3.55" fill="#d0dd36"/>
<rect x="232.85" y="195.35" width="3.55" height="3.55" fill="#22a386"/>
<rect x="235.80" y="195.35" width="3.55" height="3.55" fill="#2f5e8e"/>
<rect x="238.75" y="195.35" width="44.85" height="3.55" fill="#35206c"/>
<rect x="224.00" y="198.30" width="6.50" height="3.55" fill="#f4e12e"/>
<rect x="229.90" y="198.30" width="3.55" height="3.55" fill="#b0d83a"/>
<rect x="232.85" y="198.30" width="3.55" height="3.55" fill="#62c862"/>
<rect x="235.80" y="198.30" width="3.55" height="3.55" fill="#23888e"/>
<rect x="238.75" y="198.30" width="44.85" height="3.55" fill="#35206c"/>
<rect x="224.00" y="201.25" width="3.55" height="3.55" fill="#b0d83a"/>
<rect x="226.95" y="201.25" width="3.55" height="3.55" fill="#62c862"/>
<rect x="229.90" y="201.25" width="6.50" height="3.55" fill="#22a386"/>
<rect x="235.80" y="201.25" width="3.55" height="3.55" fill="#2f5e8e"/>
<rect x="238.75" y="201.25" width="44.85" height="3.55" fill="#35206c"/>
<rect x="224.00" y="204.20" width="3.55" height="3.55" fill="#2f5e8e"/>
<rect x="226.95" y="204.20" width="3.55" height="3.55" fill="#3b3a8c"/>
<rect x="229.90" y="204.20" width="6.50" height="3.55" fill="#23888e"/>
<rect x="235.80" y="204.20" width="3.55" height="3.55" fill="#2f5e8e"/>
<rect x="238.75" y="204.20" width="3.55" height="3.55" fill="#3b3a8c"/>
<rect x="241.70" y="204.20" width="41.90" height="3.55" fill="#35206c"/>
<rect x="224.00" y="207.15" width="3.55" height="3.55" fill="#62c862"/>
<rect x="226.95" y="207.15" width="3.55" height="3.55" fill="#22a386"/>
<rect x="229.90" y="207.15" width="6.50" height="3.55" fill="#62c862"/>
<rect x="235.80" y="207.15" width="3.55" height="3.55" fill="#22a386"/>
<rect x="238.75" y="207.15" width="3.55" height="3.55" fill="#2f5e8e"/>
<rect x="241.70" y="207.15" width="3.55" height="3.55" fill="#3b3a8c"/>
<rect x="244.65" y="207.15" width="38.95" height="3.55" fill="#35206c"/>
<rect x="224.00" y="210.10" width="6.50" height="3.55" fill="#f4e12e"/>
<rect x="229.90" y="210.10" width="6.50" height="3.55" fill="#b0d83a"/>
<rect x="235.80" y="210.10" width="6.50" height="3.55" fill="#62c862"/>
<rect x="241.70" y="210.10" width="3.55" height="3.55" fill="#2f5e8e"/>
<rect x="244.65" y="210.10" width="38.95" height="3.55" fill="#35206c"/>
<rect x="224.00" y="213.05" width="15.35" height="3.55" fill="#f4e12e"/>
<rect x="238.75" y="213.05" width="3.55" height="3.55" fill="#b0d83a"/>
<rect x="241.70" y="213.05" width="3.55" height="3.55" fill="#23888e"/>
<rect x="244.65" y="213.05" width="3.55" height="3.55" fill="#3b3a8c"/>
<rect x="247.60" y="213.05" width="36.00" height="3.55" fill="#35206c"/>
</g></g></g>
<path d="M250.8 184.1L256.2 189.5M256.2 184.1L250.8 189.5" stroke="#ee2a14" stroke-width="1.7"/>
<text x="228.4" y="166.9" font-size="10.5" fill="#111" textLength="2.9" lengthAdjust="spacingAndGlyphs" style='font-family:"Liberation Serif",serif'>i</text>
<clipPath id="c380157"><rect x="380" y="157" width="59" height="59"/></clipPath>
<g clip-path="url(#c380157)"><g filter="url(#hb)"><g shape-rendering="crispEdges">
<rect x="380.00" y="157.00" width="6.50" height="3.55" fill="#22a386"/>
<rect x="385.90" y="157.00" width="9.45" height="3.55" fill="#62c862"/>
<rect x="394.75" y="157.00" width="6.50" height="3.55" fill="#b0d83a"/>
<rect x="400.65" y="157.00" width="18.30" height="3.55" fill="#d0dd36"/>
<rect x="418.35" y="157.00" width="6.50" height="3.55" fill="#b0d83a"/>
<rect x="424.25" y="157.00" width="3.55" height="3.55" fill="#22a386"/>
<rect x="427.20" y="157.00" width="12.40" height="3.55" fill="#35206c"/>
<rect x="380.00" y="159.95" width="6.50" height="3.55" fill="#22a386"/>
<rect x="385.90" y="159.95" width="6.50" height="3.55" fill="#62c862"/>
<rect x="391.80" y="159.95" width="6.50" height="3.55" fill="#b0d83a"/>
<rect x="397.70" y="159.95" width="21.25" height="3.55" fill="#d0dd36"/>
<rect x="418.35" y="159.95" width="6.50" height="3.55" fill="#b0d83a"/>
<rect x="424.25" y="159.95" width="3.55" height="3.55" fill="#22a386"/>
<rect x="427.20" y="159.95" width="12.40" height="3.55" fill="#35206c"/>
<rect x="380.00" y="162.90" width="3.55" height="3.55" fill="#22a386"/>
<rect x="382.95" y="162.90" width="9.45" height="3.55" fill="#62c862"/>
<rect x="391.80" y="162.90" width="3.55" height="3.55" fill="#b0d83a"/>
<rect x="394.75" y="162.90" width="24.20" height="3.55" fill="#d0dd36"/>
<rect x="418.35" y="162.90" width="3.55" height="3.55" fill="#b0d83a"/>
<rect x="421.30" y="162.90" width="3.55" height="3.55" fill="#62c862"/>
<rect x="424.25" y="162.90" width="3.55" height="3.55" fill="#22a386"/>
<rect x="427.20" y="162.90" width="12.40" height="3.55" fill="#35206c"/>
<rect x="380.00" y="165.85" width="3.55" height="3.55" fill="#22a386"/>
<rect x="382.95" y="165.85" width="12.40" height="3.55" fill="#62c862"/>
<rect x="394.75" y="165.85" width="6.50" height="3.55" fill="#b0d83a"/>
<rect x="400.65" y="165.85" width="15.35" height="3.55" fill="#d0dd36"/>
<rect x="415.40" y="165.85" width="9.45" height="3.55" fill="#b0d83a"/>
<rect x="424.25" y="165.85" width="3.55" height="3.55" fill="#62c862"/>
<rect x="427.20" y="165.85" width="3.55" height="3.55" fill="#2f5e8e"/>
<rect x="430.15" y="165.85" width="3.55" height="3.55" fill="#3b3a8c"/>
<rect x="433.10" y="165.85" width="6.50" height="3.55" fill="#35206c"/>
<rect x="380.00" y="168.80" width="6.50" height="3.55" fill="#23888e"/>
<rect x="385.90" y="168.80" width="6.50" height="3.55" fill="#22a386"/>
<rect x="391.80" y="168.80" width="9.45" height="3.55" fill="#62c862"/>
<rect x="400.65" y="168.80" width="24.20" height="3.55" fill="#b0d83a"/>
<rect x="424.25" y="168.80" width="3.55" height="3.55" fill="#62c862"/>
<rect x="427.20" y="168.80" width="3.55" height="3.55" fill="#2f5e8e"/>
<rect x="430.15" y="168.80" width="3.55" height="3.55" fill="#3b3a8c"/>
<rect x="433.10" y="168.80" width="6.50" height="3.55" fill="#35206c"/>
<rect x="380.00" y="171.75" width="15.35" height="3.55" fill="#22a386"/>
<rect x="394.75" y="171.75" width="6.50" height="3.55" fill="#62c862"/>
<rect x="400.65" y="171.75" width="18.30" height="3.55" fill="#b0d83a"/>
<rect x="418.35" y="171.75" width="9.45" height="3.55" fill="#f4e12e"/>
<rect x="427.20" y="171.75" width="3.55" height="3.55" fill="#22a386"/>
<rect x="430.15" y="171.75" width="3.55" height="3.55" fill="#2f5e8e"/>
<rect x="433.10" y="171.75" width="3.55" height="3.55" fill="#3b3a8c"/>
<rect x="436.05" y="171.75" width="3.55" height="3.55" fill="#35206c"/>
<rect x="380.00" y="174.70" width="3.55" height="3.55" fill="#2f5e8e"/>
<rect x="382.95" y="174.70" width="9.45" height="3.55" fill="#3b3a8c"/>
<rect x="391.80" y="174.70" width="3.55" height="3.55" fill="#2f5e8e"/>
<rect x="394.75" y="174.70" width="3.55" height="3.55" fill="#22a386"/>
<rect x="397.70" y="174.70" width="3.55" height="3.55" fill="#62c862"/>
<rect x="400.65" y="174.70" width="3.55" height="3.55" fill="#22a386"/>
<rect x="403.60" y="174.70" width="6.50" height="3.55" fill="#23888e"/>
<rect x="409.50" y="174.70" width="3.55" height="3.55" fill="#22a386"/>
<rect x="412.45" y="174.70" width="3.55" height="3.55" fill="#b0d83a"/>
<rect x="415.40" y="174.70" width="15.35" height="3.55" fill="#f4e12e"/>
<rect x="430.15" y="174.70" width="3.55" height="3.55" fill="#23888e"/>
<rect x="433.10" y="174.70" width="3.55" height="3.55" fill="#2f5e8e"/>
<rect x="436.05" y="174.70" width="3.55" height="3.55" fill="#3b3a8c"/>
<rect x="380.00" y="177.65" width="9.45" height="3.55" fill="#35206c"/>
<rect x="388.85" y="177.65" width="3.55" height="3.55" fill="#3b3a8c"/>
<rect x="391.80" y="177.65" width="3.55" height="3.55" fill="#23888e"/>
<rect x="394.75" y="177.65" width="3.55" height="3.55" fill="#62c862"/>
<rect x="397.70" y="177.65" width="3.55" height="3.55" fill="#23888e"/>
<rect x="400.65" y="177.65" width="3.55" height="3.55" fill="#3b3a8c"/>
<rect x="403.60" y="177.65" width="3.55" height="3.55" fill="#23888e"/>
<rect x="406.55" y="177.65" width="3.55" height="3.55" fill="#22a386"/>
<rect x="409.50" y="177.65" width="3.55" height="3.55" fill="#62c862"/>
<rect x="412.45" y="177.65" width="21.25" height="3.55" fill="#f4e12e"/>
<rect x="433.10" y="177.65" width="3.55" height="3.55" fill="#23888e"/>
<rect x="436.05" y="177.65" width="3.55" height="3.55" fill="#2f5e8e"/>
<rect x="380.00" y="180.60" width="3.55" height="3.55" fill="#62c862"/>
<rect x="382.95" y="180.60" width="18.30" height="3.55" fill="#d0dd36"/>
<rect x="400.65" y="180.60" width="3.55" height="3.55" fill="#23888e"/>
<rect x="403.60" y="180.60" width="6.50" height="3.55" fill="#22a386"/>
<rect x="409.50" y="180.60" width="3.55" height="3.55" fill="#b0d83a"/>
<rect x="412.45" y="180.60" width="21.25" height="3.55" fill="#f4e12e"/>
<rect x="433.10" y="180.60" width="3.55" height="3.55" fill="#b0d83a"/>
<rect x="436.05" y="180.60" width="3.55" height="3.55" fill="#22a386"/>
<rect x="380.00" y="183.55" width="24.20" height="3.55" fill="#d0dd36"/>
<rect x="403.60" y="183.55" width="3.55" height="3.55" fill="#62c862"/>
<rect x="406.55" y="183.55" width="3.55" height="3.55" fill="#22a386"/>
<rect x="409.50" y="183.55" width="3.55" height="3.55" fill="#b0d83a"/>
<rect x="412.45" y="183.55" width="24.20" height="3.55" fill="#f4e12e"/>
<rect x="436.05" y="183.55" width="3.55" height="3.55" fill="#62c862"/>
<rect x="380.00" y="186.50" width="24.20" height="3.55" fill="#d0dd36"/>
<rect x="403.60" y="186.50" width="3.55" height="3.55" fill="#62c862"/>
<rect x="406.55" y="186.50" width="3.55" height="3.55" fill="#23888e"/>
<rect x="409.50" y="186.50" width="3.55" height="3.55" fill="#62c862"/>
<rect x="412.45" y="186.50" width="24.20" height="3.55" fill="#f4e12e"/>
<rect x="436.05" y="186.50" width="3.55" height="3.55" fill="#b0d83a"/>
<rect x="380.00" y="189.45" width="21.25" height="3.55" fill="#d0dd36"/>
<rect x="400.65" y="189.45" width="3.55" height="3.55" fill="#b0d83a"/>
<rect x="403.60" y="189.45" width="3.55" height="3.55" fill="#22a386"/>
<rect x="406.55" y="189.45" width="3.55" height="3.55" fill="#23888e"/>
<rect x="409.50" y="189.45" width="3.55" height="3.55" fill="#62c862"/>
<rect x="412.45" y="189.45" width="24.20" height="3.55" fill="#f4e12e"/>
<rect x="436.05" y="189.45" width="3.55" height="3.55" fill="#b0d83a"/>
<rect x="380.00" y="192.40" width="21.25" height="3.55" fill="#d0dd36"/>
<rect x="400.65" y="192.40" width="3.55" height="3.55" fill="#b0d83a"/>
<rect x="403.60" y="192.40" width="3.55" height="3.55" fill="#22a386"/>
<rect x="406.55" y="192.40" width="3.55" height="3.55" fill="#2f5e8e"/>
<rect x="409.50" y="192.40" width="3.55" height="3.55" fill="#22a386"/>
<rect x="412.45" y="192.40" width="24.20" height="3.55" fill="#f4e12e"/>
<rect x="436.05" y="192.40" width="3.55" height="3.55" fill="#b0d83a"/>
<rect x="380.00" y="195.35" width="18.30" height="3.55" fill="#d0dd36"/>
<rect x="397.70" y="195.35" width="3.55" height="3.55" fill="#b0d83a"/>
<rect x="400.65" y="195.35" width="3.55" height="3.55" fill="#62c862"/>
<rect x="403.60" y="195.35" width="3.55" height="3.55" fill="#23888e"/>
<rect x="406.55" y="195.35" width="3.55" height="3.55" fill="#2f5e8e"/>
<rect x="409.50" y="195.35" width="3.55" height="3.55" fill="#23888e"/>
<rect x="412.45" y="195.35" width="3.55" height="3.55" fill="#62c862"/>
<rect x="415.40" y="195.35" width="18.30" height="3.55" fill="#f4e12e"/>
<rect x="433.10" y="195.35" width="3.55" height="3.55" fill="#b0d83a"/>
<rect x="436.05" y="195.35" width="3.55" height="3.55" fill="#62c862"/>
<rect x="380.00" y="198.30" width="18.30" height="3.55" fill="#d0dd36"/>
<rect x="397.70" y="198.30" width="3.55" height="3.55" fill="#b0d83a"/>
<rect x="400.65" y="198.30" width="3.55" height="3.55" fill="#62c862"/>
<rect x="403.60" y="198.30" width="3.55" height="3.55" fill="#22a386"/>
<rect x="406.55" y="198.30" width="3.55" height="3.55" fill="#3b3a8c"/>
<rect x="409.50" y="198.30" width="3.55" height="3.55" fill="#2f5e8e"/>
<rect x="412.45" y="198.30" width="3.55" height="3.55" fill="#22a386"/>
<rect x="415.40" y="198.30" width="18.30" height="3.55" fill="#b0d83a"/>
<rect x="433.10" y="198.30" width="3.55" height="3.55" fill="#62c862"/>
<rect x="436.05" y="198.30" width="3.55" height="3.55" fill="#22a386"/>
<rect x="380.00" y="201.25" width="18.30" height="3.55" fill="#b0d83a"/>
<rect x="397.70" y="201.25" width="3.55" height="3.55" fill="#62c862"/>
<rect x="400.65" y="201.25" width="6.50" height="3.55" fill="#22a386"/>
<rect x="406.55" y="201.25" width="3.55" height="3.55" fill="#35206c"/>
<rect x="409.50" y="201.25" width="3.55" height="3.55" fill="#3b3a8c"/>
<rect x="412.45" y="201.25" width="3.55" height="3.55" fill="#23888e"/>
<rect x="415.40" y="201.25" width="3.55" height="3.55" fill="#62c862"/>
<rect x="418.35" y="201.25" width="12.40" height="3.55" fill="#b0d83a"/>
<rect x="430.15" y="201.25" width="3.55" height="3.55" fill="#62c862"/>
<rect x="433.10" y="201.25" width="3.55" height="3.55" fill="#22a386"/>
<rect x="436.05" y="201.25" width="3.55" height="3.55" fill="#23888e"/>
<rect x="380.00" y="204.20" width="18.30" height="3.55" fill="#62c862"/>
<rect x="397.70" y="204.20" width="3.55" height="3.55" fill="#22a386"/>
<rect x="400.65" y="204.20" width="3.55" height="3.55" fill="#23888e"/>
<rect x="403.60" y="204.20" width="3.55" height="3.55" fill="#2f5e8e"/>
<rect x="406.55" y="204.20" width="3.55" height="3.55" fill="#35206c"/>
<rect x="409.50" y="204.20" width="3.55" height="3.55" fill="#3b3a8c"/>
<rect x="412.45" y="204.20" width="3.55" height="3.55" fill="#2f5e8e"/>
<rect x="415.40" y="204.20" width="3.55" height="3.55" fill="#22a386"/>
<rect x="418.35" y="204.20" width="9.45" height="3.55" fill="#62c862"/>
<rect x="427.20" y="204.20" width="3.55" height="3.55" fill="#22a386"/>
<rect x="430.15" y="204.20" width="3.55" height="3.55" fill="#23888e"/>
<rect x="433.10" y="204.20" width="3.55" height="3.55" fill="#2f5e8e"/>
<rect x="436.05" y="204.20" width="3.55" height="3.55" fill="#3b3a8c"/>
<rect x="380.00" y="207.15" width="6.50" height="3.55" fill="#23888e"/>
<rect x="385.90" y="207.15" width="6.50" height="3.55" fill="#2f5e8e"/>
<rect x="391.80" y="207.15" width="3.55" height="3.55" fill="#3b3a8c"/>
<rect x="394.75" y="207.15" width="3.55" height="3.55" fill="#2f5e8e"/>
<rect x="397.70" y="207.15" width="9.45" height="3.55" fill="#23888e"/>
<rect x="406.55" y="207.15" width="3.55" height="3.55" fill="#2f5e8e"/>
<rect x="409.50" y="207.15" width="3.55" height="3.55" fill="#23888e"/>
<rect x="412.45" y="207.15" width="3.55" height="3.55" fill="#22a386"/>
<rect x="415.40" y="207.15" width="6.50" height="3.55" fill="#62c862"/>
<rect x="421.30" y="207.15" width="3.55" height="3.55" fill="#22a386"/>
<rect x="424.25" y="207.15" width="3.55" height="3.55" fill="#23888e"/>
<rect x="427.20" y="207.15" width="3.55" height="3.55" fill="#3b3a8c"/>
<rect x="430.15" y="207.15" width="9.45" height="3.55" fill="#35206c"/>
<rect x="380.00" y="210.10" width="3.55" height="3.55" fill="#23888e"/>
<rect x="382.95" y="210.10" width="3.55" height="3.55" fill="#2f5e8e"/>
<rect x="385.90" y="210.10" width="9.45" height="3.55" fill="#3b3a8c"/>
<rect x="394.75" y="210.10" width="3.55" height="3.55" fill="#2f5e8e"/>
<rect x="397.70" y="210.10" width="12.40" height="3.55" fill="#22a386"/>
<rect x="409.50" y="210.10" width="6.50" height="3.55" fill="#62c862"/>
<rect x="415.40" y="210.10" width="3.55" height="3.55" fill="#22a386"/>
<rect x="418.35" y="210.10" width="3.55" height="3.55" fill="#23888e"/>
<rect x="421.30" y="210.10" width="3.55" height="3.55" fill="#2f5e8e"/>
<rect x="424.25" y="210.10" width="3.55" height="3.55" fill="#3b3a8c"/>
<rect x="427.20" y="210.10" width="12.40" height="3.55" fill="#35206c"/>
<rect x="380.00" y="213.05" width="6.50" height="3.55" fill="#22a386"/>
<rect x="385.90" y="213.05" width="12.40" height="3.55" fill="#23888e"/>
<rect x="397.70" y="213.05" width="6.50" height="3.55" fill="#22a386"/>
<rect x="403.60" y="213.05" width="9.45" height="3.55" fill="#62c862"/>
<rect x="412.45" y="213.05" width="3.55" height="3.55" fill="#22a386"/>
<rect x="415.40" y="213.05" width="6.50" height="3.55" fill="#23888e"/>
<rect x="421.30" y="213.05" width="3.55" height="3.55" fill="#3b3a8c"/>
<rect x="424.25" y="213.05" width="15.35" height="3.55" fill="#35206c"/>
</g></g></g>
<path d="M406.8 184.1L412.2 189.5M412.2 184.1L406.8 189.5" stroke="#ee2a14" stroke-width="1.7"/>
<text x="382.7" y="166.9" font-size="10.5" fill="#111" textLength="5.0" lengthAdjust="spacingAndGlyphs" style='font-family:"Liberation Serif",serif'>ii</text>
<clipPath id="c224230"><rect x="224" y="230.4" width="59" height="59"/></clipPath>
<g clip-path="url(#c224230)"><g filter="url(#hb)"><g shape-rendering="crispEdges">
<rect x="224.00" y="230.40" width="26.80" height="3.70" fill="#2f5e8e"/>
<rect x="250.20" y="230.40" width="8.20" height="3.70" fill="#35206c"/>
<rect x="257.80" y="230.40" width="26.20" height="3.70" fill="#23888e"/>
<rect x="224.00" y="233.50" width="23.89" height="3.35" fill="#b0d83a"/>
<rect x="247.29" y="233.50" width="3.51" height="3.35" fill="#62c862"/>
<rect x="250.20" y="233.50" width="4.40" height="3.35" fill="#23888e"/>
<rect x="254.00" y="233.50" width="4.40" height="3.35" fill="#22a386"/>
<rect x="257.80" y="233.50" width="26.20" height="3.35" fill="#48c06e"/>
<rect x="224.00" y="236.25" width="23.89" height="3.35" fill="#b0d83a"/>
<rect x="247.29" y="236.25" width="3.51" height="3.35" fill="#62c862"/>
<rect x="250.20" y="236.25" width="4.40" height="3.35" fill="#23888e"/>
<rect x="254.00" y="236.25" width="4.40" height="3.35" fill="#22a386"/>
<rect x="257.80" y="236.25" width="26.20" height="3.35" fill="#48c06e"/>
<rect x="224.00" y="238.99" width="23.89" height="3.35" fill="#b0d83a"/>
<rect x="247.29" y="238.99" width="3.51" height="3.35" fill="#62c862"/>
<rect x="250.20" y="238.99" width="4.40" height="3.35" fill="#23888e"/>
<rect x="254.00" y="238.99" width="4.40" height="3.35" fill="#22a386"/>
<rect x="257.80" y="238.99" width="26.20" height="3.35" fill="#48c06e"/>
<rect x="224.00" y="241.74" width="23.89" height="3.35" fill="#b0d83a"/>
<rect x="247.29" y="241.74" width="3.51" height="3.35" fill="#62c862"/>
<rect x="250.20" y="241.74" width="4.40" height="3.35" fill="#23888e"/>
<rect x="254.00" y="241.74" width="4.40" height="3.35" fill="#22a386"/>
<rect x="257.80" y="241.74" width="26.20" height="3.35" fill="#48c06e"/>
<rect x="224.00" y="244.48" width="23.89" height="3.35" fill="#b0d83a"/>
<rect x="247.29" y="244.48" width="3.51" height="3.35" fill="#62c862"/>
<rect x="250.20" y="244.48" width="4.40" height="3.35" fill="#23888e"/>
<rect x="254.00" y="244.48" width="4.40" height="3.35" fill="#3b3a8c"/>
<rect x="257.80" y="244.48" width="26.20" height="3.35" fill="#48c06e"/>
<rect x="224.00" y="247.23" width="23.89" height="3.35" fill="#b0d83a"/>
<rect x="247.29" y="247.23" width="3.51" height="3.35" fill="#62c862"/>
<rect x="250.20" y="247.23" width="4.40" height="3.35" fill="#23888e"/>
<rect x="254.00" y="247.23" width="4.40" height="3.35" fill="#3b3a8c"/>
<rect x="257.80" y="247.23" width="26.20" height="3.35" fill="#48c06e"/>
<rect x="224.00" y="249.97" width="23.89" height="3.35" fill="#b0d83a"/>
<rect x="247.29" y="249.97" width="3.51" height="3.35" fill="#62c862"/>
<rect x="250.20" y="249.97" width="4.40" height="3.35" fill="#23888e"/>
<rect x="254.00" y="249.97" width="4.40" height="3.35" fill="#3b3a8c"/>
<rect x="257.80" y="249.97" width="26.20" height="3.35" fill="#48c06e"/>
<rect x="224.00" y="252.72" width="23.89" height="3.35" fill="#b0d83a"/>
<rect x="247.29" y="252.72" width="3.51" height="3.35" fill="#62c862"/>
<rect x="250.20" y="252.72" width="4.40" height="3.35" fill="#2f5e8e"/>
<rect x="254.00" y="252.72" width="4.40" height="3.35" fill="#35206c"/>
<rect x="257.80" y="252.72" width="26.20" height="3.35" fill="#48c06e"/>
<rect x="224.00" y="255.46" width="23.89" height="3.35" fill="#b0d83a"/>
<rect x="247.29" y="255.46" width="3.51" height="3.35" fill="#62c862"/>
<rect x="250.20" y="255.46" width="4.40" height="3.35" fill="#2f5e8e"/>
<rect x="254.00" y="255.46" width="4.40" height="3.35" fill="#35206c"/>
<rect x="257.80" y="255.46" width="26.20" height="3.35" fill="#48c06e"/>
<rect x="224.00" y="258.21" width="23.89" height="3.35" fill="#b0d83a"/>
<rect x="247.29" y="258.21" width="3.51" height="3.35" fill="#62c862"/>
<rect x="250.20" y="258.21" width="4.40" height="3.35" fill="#22a386"/>
<rect x="254.00" y="258.21" width="4.40" height="3.35" fill="#35206c"/>
<rect x="257.80" y="258.21" width="26.20" height="3.35" fill="#48c06e"/>
<rect x="224.00" y="260.95" width="23.89" height="3.35" fill="#b0d83a"/>
<rect x="247.29" y="260.95" width="3.51" height="3.35" fill="#62c862"/>
<rect x="250.20" y="260.95" width="4.40" height="3.35" fill="#22a386"/>
<rect x="254.00" y="260.95" width="4.40" height="3.35" fill="#35206c"/>
<rect x="257.80" y="260.95" width="26.20" height="3.35" fill="#22a386"/>
<rect x="224.00" y="263.70" width="23.89" height="3.90" fill="#b0d83a"/>
<rect x="247.29" y="263.70" width="3.51" height="3.90" fill="#22a386"/>
<rect x="250.20" y="263.70" width="4.40" height="3.90" fill="#23888e"/>
<rect x="254.00" y="263.70" width="4.40" height="3.90" fill="#3b3a8c"/>
<rect x="257.80" y="263.70" width="26.20" height="3.90" fill="#2f5e8e"/>
<rect x="224.00" y="267.00" width="23.89" height="4.40" fill="#2f5e8e"/>
<rect x="247.29" y="267.00" width="3.51" height="4.40" fill="#3b3a8c"/>
<rect x="250.20" y="267.00" width="4.40" height="4.40" fill="#35206c"/>
<rect x="254.00" y="267.00" width="4.40" height="4.40" fill="#23888e"/>
<rect x="257.80" y="267.00" width="23.36" height="4.40" fill="#22a386"/>
<rect x="280.56" y="267.00" width="3.44" height="4.40" fill="#2f5e8e"/>
<rect x="224.00" y="270.80" width="20.98" height="3.70" fill="#b0d83a"/>
<rect x="244.38" y="270.80" width="3.51" height="3.70" fill="#62c862"/>
<rect x="247.29" y="270.80" width="3.51" height="3.70" fill="#22a386"/>
<rect x="250.20" y="270.80" width="4.40" height="3.70" fill="#35206c"/>
<rect x="254.00" y="270.80" width="4.40" height="3.70" fill="#62c862"/>
<rect x="257.80" y="270.80" width="23.36" height="3.70" fill="#f4e12e"/>
<rect x="280.56" y="270.80" width="3.44" height="3.70" fill="#b0d83a"/>
<rect x="224.00" y="273.90" width="20.98" height="3.70" fill="#b0d83a"/>
<rect x="244.38" y="273.90" width="3.51" height="3.70" fill="#62c862"/>
<rect x="247.29" y="273.90" width="3.51" height="3.70" fill="#22a386"/>
<rect x="250.20" y="273.90" width="4.40" height="3.70" fill="#35206c"/>
<rect x="254.00" y="273.90" width="4.40" height="3.70" fill="#62c862"/>
<rect x="257.80" y="273.90" width="23.36" height="3.70" fill="#f4e12e"/>
<rect x="280.56" y="273.90" width="3.44" height="3.70" fill="#b0d83a"/>
<rect x="224.00" y="277.00" width="18.07" height="3.70" fill="#b0d83a"/>
<rect x="241.47" y="277.00" width="6.42" height="3.70" fill="#62c862"/>
<rect x="247.29" y="277.00" width="3.51" height="3.70" fill="#22a386"/>
<rect x="250.20" y="277.00" width="4.40" height="3.70" fill="#35206c"/>
<rect x="254.00" y="277.00" width="4.40" height="3.70" fill="#62c862"/>
<rect x="257.80" y="277.00" width="23.36" height="3.70" fill="#f4e12e"/>
<rect x="280.56" y="277.00" width="3.44" height="3.70" fill="#b0d83a"/>
<rect x="224.00" y="280.10" width="20.98" height="3.70" fill="#b0d83a"/>
<rect x="244.38" y="280.10" width="3.51" height="3.70" fill="#62c862"/>
<rect x="247.29" y="280.10" width="3.51" height="3.70" fill="#22a386"/>
<rect x="250.20" y="280.10" width="4.40" height="3.70" fill="#35206c"/>
<rect x="254.00" y="280.10" width="4.40" height="3.70" fill="#62c862"/>
<rect x="257.80" y="280.10" width="23.36" height="3.70" fill="#f4e12e"/>
<rect x="280.56" y="280.10" width="3.44" height="3.70" fill="#b0d83a"/>
<rect x="224.00" y="283.20" width="20.98" height="3.70" fill="#b0d83a"/>
<rect x="244.38" y="283.20" width="3.51" height="3.70" fill="#62c862"/>
<rect x="247.29" y="283.20" width="3.51" height="3.70" fill="#22a386"/>
<rect x="250.20" y="283.20" width="4.40" height="3.70" fill="#35206c"/>
<rect x="254.00" y="283.20" width="4.40" height="3.70" fill="#62c862"/>
<rect x="257.80" y="283.20" width="23.36" height="3.70" fill="#f4e12e"/>
<rect x="280.56" y="283.20" width="3.44" height="3.70" fill="#b0d83a"/>
<rect x="224.00" y="286.30" width="20.98" height="3.70" fill="#b0d83a"/>
<rect x="244.38" y="286.30" width="3.51" height="3.70" fill="#62c862"/>
<rect x="247.29" y="286.30" width="3.51" height="3.70" fill="#22a386"/>
<rect x="250.20" y="286.30" width="4.40" height="3.70" fill="#35206c"/>
<rect x="254.00" y="286.30" width="4.40" height="3.70" fill="#62c862"/>
<rect x="257.80" y="286.30" width="26.20" height="3.70" fill="#b0d83a"/>
</g></g></g>
<path d="M250.8 257.5L256.2 262.9M256.2 257.5L250.8 262.9" stroke="#ee2a14" stroke-width="1.7"/>
<text x="228.3" y="242.7" font-size="10.5" fill="#111" textLength="7.4" lengthAdjust="spacingAndGlyphs" style='font-family:"Liberation Serif",serif'>iii</text>
<clipPath id="c380230"><rect x="380" y="230.2" width="59" height="59"/></clipPath>
<g clip-path="url(#c380230)"><g filter="url(#hb)"><g shape-rendering="crispEdges">
<rect x="380.00" y="230.20" width="59.60" height="3.55" fill="#35206c"/>
<rect x="380.00" y="233.15" width="44.85" height="3.55" fill="#35206c"/>
<rect x="424.25" y="233.15" width="3.55" height="3.55" fill="#3b3a8c"/>
<rect x="427.20" y="233.15" width="3.55" height="3.55" fill="#23888e"/>
<rect x="430.15" y="233.15" width="9.45" height="3.55" fill="#22a386"/>
<rect x="380.00" y="236.10" width="33.05" height="3.55" fill="#35206c"/>
<rect x="412.45" y="236.10" width="3.55" height="3.55" fill="#3b3a8c"/>
<rect x="415.40" y="236.10" width="3.55" height="3.55" fill="#22a386"/>
<rect x="418.35" y="236.10" width="21.25" height="3.55" fill="#b0d83a"/>
<rect x="380.00" y="239.05" width="33.05" height="3.55" fill="#35206c"/>
<rect x="412.45" y="239.05" width="3.55" height="3.55" fill="#2f5e8e"/>
<rect x="415.40" y="239.05" width="3.55" height="3.55" fill="#62c862"/>
<rect x="418.35" y="239.05" width="21.25" height="3.55" fill="#d0dd36"/>
<rect x="380.00" y="242.00" width="33.05" height="3.55" fill="#35206c"/>
<rect x="412.45" y="242.00" width="3.55" height="3.55" fill="#23888e"/>
<rect x="415.40" y="242.00" width="3.55" height="3.55" fill="#62c862"/>
<rect x="418.35" y="242.00" width="21.25" height="3.55" fill="#d0dd36"/>
<rect x="380.00" y="244.95" width="30.10" height="3.55" fill="#3b3a8c"/>
<rect x="409.50" y="244.95" width="3.55" height="3.55" fill="#2f5e8e"/>
<rect x="412.45" y="244.95" width="3.55" height="3.55" fill="#23888e"/>
<rect x="415.40" y="244.95" width="3.55" height="3.55" fill="#62c862"/>
<rect x="418.35" y="244.95" width="21.25" height="3.55" fill="#d0dd36"/>
<rect x="380.00" y="247.90" width="38.95" height="3.55" fill="#23888e"/>
<rect x="418.35" y="247.90" width="3.55" height="3.55" fill="#22a386"/>
<rect x="421.30" y="247.90" width="18.30" height="3.55" fill="#d0dd36"/>
<rect x="380.00" y="250.85" width="33.05" height="3.55" fill="#48c06e"/>
<rect x="412.45" y="250.85" width="3.55" height="3.55" fill="#22a386"/>
<rect x="415.40" y="250.85" width="3.55" height="3.55" fill="#2f5e8e"/>
<rect x="418.35" y="250.85" width="3.55" height="3.55" fill="#23888e"/>
<rect x="421.30" y="250.85" width="18.30" height="3.55" fill="#d0dd36"/>
<rect x="380.00" y="253.80" width="33.05" height="3.55" fill="#48c06e"/>
<rect x="412.45" y="253.80" width="3.55" height="3.55" fill="#22a386"/>
<rect x="415.40" y="253.80" width="3.55" height="3.55" fill="#3b3a8c"/>
<rect x="418.35" y="253.80" width="3.55" height="3.55" fill="#2f5e8e"/>
<rect x="421.30" y="253.80" width="18.30" height="3.55" fill="#f4e12e"/>
<rect x="380.00" y="256.75" width="33.05" height="3.55" fill="#48c06e"/>
<rect x="412.45" y="256.75" width="3.55" height="3.55" fill="#22a386"/>
<rect x="415.40" y="256.75" width="3.55" height="3.55" fill="#3b3a8c"/>
<rect x="418.35" y="256.75" width="3.55" height="3.55" fill="#2f5e8e"/>
<rect x="421.30" y="256.75" width="18.30" height="3.55" fill="#f4e12e"/>
<rect x="380.00" y="259.70" width="33.05" height="3.55" fill="#48c06e"/>
<rect x="412.45" y="259.70" width="3.55" height="3.55" fill="#22a386"/>
<rect x="415.40" y="259.70" width="3.55" height="3.55" fill="#3b3a8c"/>
<rect x="418.35" y="259.70" width="3.55" height="3.55" fill="#2f5e8e"/>
<rect x="421.30" y="259.70" width="18.30" height="3.55" fill="#f4e12e"/>
<rect x="380.00" y="262.65" width="33.05" height="3.55" fill="#48c06e"/>
<rect x="412.45" y="262.65" width="3.55" height="3.55" fill="#22a386"/>
<rect x="415.40" y="262.65" width="3.55" height="3.55" fill="#3b3a8c"/>
<rect x="418.35" y="262.65" width="3.55" height="3.55" fill="#2f5e8e"/>
<rect x="421.30" y="262.65" width="18.30" height="3.55" fill="#f4e12e"/>
<rect x="380.00" y="265.60" width="33.05" height="3.55" fill="#48c06e"/>
<rect x="412.45" y="265.60" width="3.55" height="3.55" fill="#22a386"/>
<rect x="415.40" y="265.60" width="3.55" height="3.55" fill="#3b3a8c"/>
<rect x="418.35" y="265.60" width="3.55" height="3.55" fill="#2f5e8e"/>
<rect x="421.30" y="265.60" width="18.30" height="3.55" fill="#f4e12e"/>
<rect x="380.00" y="268.55" width="33.05" height="3.55" fill="#48c06e"/>
<rect x="412.45" y="268.55" width="3.55" height="3.55" fill="#22a386"/>
<rect x="415.40" y="268.55" width="3.55" height="3.55" fill="#35206c"/>
<rect x="418.35" y="268.55" width="3.55" height="3.55" fill="#3b3a8c"/>
<rect x="421.30" y="268.55" width="18.30" height="3.55" fill="#b0d83a"/>
<rect x="380.00" y="271.50" width="33.05" height="3.55" fill="#48c06e"/>
<rect x="412.45" y="271.50" width="3.55" height="3.55" fill="#22a386"/>
<rect x="415.40" y="271.50" width="3.55" height="3.55" fill="#35206c"/>
<rect x="418.35" y="271.50" width="3.55" height="3.55" fill="#3b3a8c"/>
<rect x="421.30" y="271.50" width="9.45" height="3.55" fill="#62c862"/>
<rect x="430.15" y="271.50" width="9.45" height="3.55" fill="#22a386"/>
<rect x="380.00" y="274.45" width="33.05" height="3.55" fill="#48c06e"/>
<rect x="412.45" y="274.45" width="3.55" height="3.55" fill="#22a386"/>
<rect x="415.40" y="274.45" width="3.55" height="3.55" fill="#3b3a8c"/>
<rect x="418.35" y="274.45" width="3.55" height="3.55" fill="#2f5e8e"/>
<rect x="421.30" y="274.45" width="9.45" height="3.55" fill="#62c862"/>
<rect x="430.15" y="274.45" width="3.55" height="3.55" fill="#22a386"/>
<rect x="433.10" y="274.45" width="3.55" height="3.55" fill="#23888e"/>
<rect x="436.05" y="274.45" width="3.55" height="3.55" fill="#22a386"/>
<rect x="380.00" y="277.40" width="6.50" height="3.55" fill="#2f5e8e"/>
<rect x="385.90" y="277.40" width="30.10" height="3.55" fill="#22a386"/>
<rect x="415.40" y="277.40" width="3.55" height="3.55" fill="#23888e"/>
<rect x="418.35" y="277.40" width="3.55" height="3.55" fill="#22a386"/>
<rect x="421.30" y="277.40" width="18.30" height="3.55" fill="#b0d83a"/>
<rect x="380.00" y="280.35" width="3.55" height="3.55" fill="#2f5e8e"/>
<rect x="382.95" y="280.35" width="15.35" height="3.55" fill="#62c862"/>
<rect x="397.70" y="280.35" width="12.40" height="3.55" fill="#23888e"/>
<rect x="409.50" y="280.35" width="3.55" height="3.55" fill="#22a386"/>
<rect x="412.45" y="280.35" width="27.15" height="3.55" fill="#b0d83a"/>
<rect x="380.00" y="283.30" width="3.55" height="3.55" fill="#23888e"/>
<rect x="382.95" y="283.30" width="15.35" height="3.55" fill="#b0d83a"/>
<rect x="397.70" y="283.30" width="9.45" height="3.55" fill="#23888e"/>
<rect x="406.55" y="283.30" width="3.55" height="3.55" fill="#62c862"/>
<rect x="409.50" y="283.30" width="30.10" height="3.55" fill="#b0d83a"/>
<rect x="380.00" y="286.25" width="3.55" height="3.55" fill="#22a386"/>
<rect x="382.95" y="286.25" width="15.35" height="3.55" fill="#b0d83a"/>
<rect x="397.70" y="286.25" width="9.45" height="3.55" fill="#22a386"/>
<rect x="406.55" y="286.25" width="33.05" height="3.55" fill="#b0d83a"/>
</g></g></g>
<path d="M406.8 257.3L412.2 262.7M412.2 257.3L406.8 262.7" stroke="#ee2a14" stroke-width="1.7"/>
<text x="382.4" y="239.6" font-size="10.5" fill="#fff" textLength="8.0" lengthAdjust="spacingAndGlyphs" style='font-family:"Liberation Serif",serif'>iv</text>
<rect x="302.1" y="157.25" width="68.79999999999995" height="59.25" fill="none" stroke="#c4c4c4" stroke-width="0.5"/>
<line x1="300.8" y1="213.5" x2="302.1" y2="213.5" stroke="#555" stroke-width="0.4"/>
<text x="300.3" y="214.9" font-size="3.9" fill="#333" text-anchor="end" stroke="#333" stroke-width="0.12">200</text>
<line x1="300.8" y1="204.0" x2="302.1" y2="204.0" stroke="#555" stroke-width="0.4"/>
<text x="300.3" y="205.4" font-size="3.9" fill="#333" text-anchor="end" stroke="#333" stroke-width="0.12">300</text>
<line x1="300.8" y1="194.5" x2="302.1" y2="194.5" stroke="#555" stroke-width="0.4"/>
<text x="300.3" y="195.9" font-size="3.9" fill="#333" text-anchor="end" stroke="#333" stroke-width="0.12">400</text>
<line x1="300.8" y1="185.0" x2="302.1" y2="185.0" stroke="#555" stroke-width="0.4"/>
<text x="300.3" y="186.4" font-size="3.9" fill="#333" text-anchor="end" stroke="#333" stroke-width="0.12">500</text>
<line x1="300.8" y1="175.5" x2="302.1" y2="175.5" stroke="#555" stroke-width="0.4"/>
<text x="300.3" y="176.9" font-size="3.9" fill="#333" text-anchor="end" stroke="#333" stroke-width="0.12">600</text>
<line x1="300.8" y1="166.0" x2="302.1" y2="166.0" stroke="#555" stroke-width="0.4"/>
<text x="300.3" y="167.4" font-size="3.9" fill="#333" text-anchor="end" stroke="#333" stroke-width="0.12">700</text>
<line x1="305.0" y1="216.5" x2="305.0" y2="217.8" stroke="#555" stroke-width="0.4"/>
<text x="305.0" y="221.3" font-size="3.9" fill="#333" text-anchor="middle" stroke="#333" stroke-width="0.12">0.2</text>
<line x1="318.4" y1="216.5" x2="318.4" y2="217.8" stroke="#555" stroke-width="0.4"/>
<text x="318.4" y="221.3" font-size="3.9" fill="#333" text-anchor="middle" stroke="#333" stroke-width="0.12">0.4</text>
<line x1="331.8" y1="216.5" x2="331.8" y2="217.8" stroke="#555" stroke-width="0.4"/>
<text x="331.8" y="221.3" font-size="3.9" fill="#333" text-anchor="middle" stroke="#333" stroke-width="0.12">0.6</text>
<line x1="345.2" y1="216.5" x2="345.2" y2="217.8" stroke="#555" stroke-width="0.4"/>
<text x="345.2" y="221.3" font-size="3.9" fill="#333" text-anchor="middle" stroke="#333" stroke-width="0.12">0.8</text>
<line x1="358.6" y1="216.5" x2="358.6" y2="217.8" stroke="#555" stroke-width="0.4"/>
<text x="358.6" y="221.3" font-size="3.9" fill="#333" text-anchor="middle" stroke="#333" stroke-width="0.12">1.0</text>
<polyline fill="none" stroke="#1f77c4" stroke-width="1.3" stroke-linejoin="round" points="305.00,210.49 305.54,210.09 306.07,209.42 306.61,209.12 307.14,208.43 307.68,207.64 308.22,207.06 308.75,206.01 309.29,205.03 309.82,203.97 310.36,203.23 310.90,201.80 311.43,200.49 311.97,198.52 312.50,196.95 313.04,195.63 313.58,193.33 314.11,191.38 314.65,189.43 315.18,187.22 315.72,185.20 316.26,182.97 316.79,179.97 317.33,177.37 317.86,174.80 318.40,173.18 318.94,172.38 319.47,171.53 320.01,171.64 320.54,172.65 321.08,174.54 321.62,176.63 322.15,179.57 322.69,182.68 323.22,185.95 323.76,188.82 324.30,191.15 324.83,193.73 325.37,195.84 325.90,197.23 326.44,198.54 326.98,199.51 327.51,200.25 328.05,201.02 328.58,201.17 329.12,201.86 329.66,202.05 330.19,202.71 330.73,202.75 331.26,203.15 331.80,203.95 332.34,204.13 332.87,204.02 333.41,204.56 333.94,204.56 334.48,205.18 335.02,205.64 335.55,205.60 336.09,205.78 336.62,206.32 337.16,206.67 337.70,206.75 338.23,206.61 338.77,206.93 339.30,207.48 339.84,207.57 340.38,207.82 340.91,208.00 341.45,207.74 341.98,208.24 342.52,208.17 343.06,208.37 343.59,208.65 344.13,208.47 344.66,208.94 345.20,208.77 345.74,209.18 346.27,209.11 346.81,209.33 347.34,209.40 347.88,209.09 348.42,209.27 348.95,209.63 349.49,209.37 350.02,209.83 350.56,209.79 351.10,209.59 351.63,209.77 352.17,210.14 352.70,209.68 353.24,210.18 353.78,210.20 354.31,209.96 354.85,210.26 355.38,210.33 355.92,210.50 356.46,210.54 356.99,210.30 357.53,210.54 358.06,210.38 358.60,210.56 359.14,210.56 359.67,210.32 360.21,210.64 360.74,210.63 361.28,210.51 361.82,210.94 362.35,211.00 362.89,210.62 363.42,210.71 363.96,211.07 364.50,211.15 365.03,210.88 365.57,210.80 366.10,211.26 366.64,210.87 367.18,210.95"/>
<polyline fill="none" stroke="#ffa533" stroke-width="1.3" stroke-linejoin="round" points="305.00,211.38 305.54,211.14 306.07,210.79 306.61,210.23 307.14,209.27 307.68,208.68 308.22,207.67 308.75,206.86 309.29,205.71 309.82,204.73 310.36,203.57 310.90,202.17 311.43,200.41 311.97,198.82 312.50,196.85 313.04,194.70 313.58,192.40 314.11,189.88 314.65,187.04 315.18,183.63 315.72,180.38 316.26,176.75 316.79,171.88 317.33,167.02 317.86,164.02 318.40,161.80 318.94,160.49 319.47,160.91 320.01,162.90 320.54,165.11 321.08,168.00 321.62,171.73 322.15,175.72 322.69,179.37 323.22,183.32 323.76,187.23 324.30,190.34 324.83,192.52 325.37,194.17 325.90,195.91 326.44,197.26 326.98,198.69 327.51,199.41 328.05,200.23 328.58,200.88 329.12,201.65 329.66,202.06 330.19,202.88 330.73,203.25 331.26,203.66 331.80,204.04 332.34,204.47 332.87,204.83 333.41,205.12 333.94,205.38 334.48,205.82 335.02,205.99 335.55,206.19 336.09,206.45 336.62,206.82 337.16,206.95 337.70,207.15 338.23,207.46 338.77,207.65 339.30,207.93 339.84,208.06 340.38,208.25 340.91,208.58 341.45,208.60 341.98,208.66 342.52,208.86 343.06,209.06 343.59,209.31 344.13,209.35 344.66,209.53 345.20,209.71 345.74,209.72 346.27,210.06 346.81,209.98 347.34,210.30 347.88,210.24 348.42,210.38 348.95,210.55 349.49,210.51 350.02,210.66 350.56,210.73 351.10,210.73 351.63,211.02 352.17,211.18 352.70,211.19 353.24,211.18 353.78,211.40 354.31,211.50 354.85,211.38 355.38,211.53 355.92,211.68 356.46,211.63 356.99,211.87 357.53,211.86 358.06,212.06 358.60,212.07 359.14,212.03 359.67,212.07 360.21,212.14 360.74,212.34 361.28,212.34 361.82,212.47 362.35,212.58 362.89,212.52 363.42,212.46 363.96,212.50 364.50,212.57 365.03,212.53 365.57,212.75 366.10,212.80 366.64,212.74 367.18,212.80"/>
<polyline fill="none" stroke="#d81e4a" stroke-opacity="0.88" stroke-width="1.3" stroke-linejoin="round" points="305.00,210.43 305.54,210.02 306.07,209.46 306.61,209.00 307.14,208.46 307.68,207.44 308.22,206.56 308.75,206.02 309.29,205.34 309.82,204.42 310.36,202.80 310.90,201.96 311.43,200.13 311.97,198.65 312.50,197.16 313.04,195.19 313.58,193.89 314.11,191.91 314.65,189.67 315.18,187.75 315.72,185.06 316.26,183.14 316.79,180.51 317.33,177.71 317.86,174.90 318.40,173.44 318.94,172.47 319.47,171.89 320.01,171.90 320.54,173.01 321.08,174.82 321.62,177.19 322.15,179.80 322.69,183.08 323.22,186.25 323.76,188.71 324.30,191.29 324.83,194.19 325.37,196.16 325.90,197.43 326.44,198.33 326.98,199.36 327.51,200.08 328.05,200.64 328.58,201.37 329.12,201.61 329.66,201.96 330.19,202.80 330.73,202.67 331.26,203.10 331.80,203.74 332.34,203.84 332.87,204.01 333.41,204.13 333.94,204.71 334.48,204.88 335.02,204.98 335.55,205.30 336.09,205.48 336.62,206.01 337.16,206.15 337.70,206.63 338.23,206.56 338.77,206.70 339.30,206.99 339.84,207.12 340.38,207.57 340.91,207.33 341.45,207.44 341.98,207.59 342.52,207.98 343.06,207.98 343.59,208.38 344.13,208.17 344.66,208.32 345.20,208.73 345.74,209.00 346.27,208.90 346.81,208.94 347.34,208.91 347.88,209.17 348.42,209.52 348.95,209.15 349.49,209.66 350.02,209.31 350.56,209.74 351.10,209.72 351.63,209.53 352.17,209.96 352.70,210.02 353.24,209.87 353.78,209.81 354.31,209.80 354.85,209.94 355.38,209.85 355.92,210.16 356.46,209.95 356.99,210.49 357.53,210.46 358.06,210.33 358.60,210.51 359.14,210.31 359.67,210.40 360.21,210.51 360.74,210.37 361.28,210.57 361.82,210.76 362.35,210.76 362.89,210.53 363.42,210.54 363.96,210.97 364.50,210.64 365.03,210.60 365.57,210.89 366.10,210.89 366.64,211.13 367.18,210.97"/>
<text x="317.7" y="225.8" font-size="5.0" fill="#333" textLength="31.4" lengthAdjust="spacingAndGlyphs" stroke="#333" stroke-width="0.15">Energy loss (eV)</text>
<text transform="translate(291.2 187.3) rotate(-90)" font-size="4.8" fill="#333" stroke="#333" stroke-width="0.15" text-anchor="middle" textLength="37" lengthAdjust="spacingAndGlyphs">Signal (arb. units)</text>
<rect x="458.5" y="157.5" width="68.10000000000002" height="59.0" fill="none" stroke="#c4c4c4" stroke-width="0.5"/>
<line x1="457.2" y1="214.5" x2="458.5" y2="214.5" stroke="#555" stroke-width="0.4"/>
<text x="456.7" y="215.9" font-size="3.9" fill="#333" text-anchor="end" stroke="#333" stroke-width="0.12">200</text>
<line x1="457.2" y1="207.6" x2="458.5" y2="207.6" stroke="#555" stroke-width="0.4"/>
<text x="456.7" y="209.0" font-size="3.9" fill="#333" text-anchor="end" stroke="#333" stroke-width="0.12">225</text>
<line x1="457.2" y1="200.8" x2="458.5" y2="200.8" stroke="#555" stroke-width="0.4"/>
<text x="456.7" y="202.2" font-size="3.9" fill="#333" text-anchor="end" stroke="#333" stroke-width="0.12">250</text>
<line x1="457.2" y1="193.9" x2="458.5" y2="193.9" stroke="#555" stroke-width="0.4"/>
<text x="456.7" y="195.3" font-size="3.9" fill="#333" text-anchor="end" stroke="#333" stroke-width="0.12">275</text>
<line x1="457.2" y1="187.0" x2="458.5" y2="187.0" stroke="#555" stroke-width="0.4"/>
<text x="456.7" y="188.4" font-size="3.9" fill="#333" text-anchor="end" stroke="#333" stroke-width="0.12">300</text>
<line x1="457.2" y1="180.1" x2="458.5" y2="180.1" stroke="#555" stroke-width="0.4"/>
<text x="456.7" y="181.5" font-size="3.9" fill="#333" text-anchor="end" stroke="#333" stroke-width="0.12">325</text>
<line x1="457.2" y1="173.2" x2="458.5" y2="173.2" stroke="#555" stroke-width="0.4"/>
<text x="456.7" y="174.7" font-size="3.9" fill="#333" text-anchor="end" stroke="#333" stroke-width="0.12">350</text>
<line x1="457.2" y1="166.4" x2="458.5" y2="166.4" stroke="#555" stroke-width="0.4"/>
<text x="456.7" y="167.8" font-size="3.9" fill="#333" text-anchor="end" stroke="#333" stroke-width="0.12">375</text>
<line x1="457.2" y1="159.5" x2="458.5" y2="159.5" stroke="#555" stroke-width="0.4"/>
<text x="456.7" y="160.9" font-size="3.9" fill="#333" text-anchor="end" stroke="#333" stroke-width="0.12">400</text>
<line x1="460.5" y1="216.5" x2="460.5" y2="217.8" stroke="#555" stroke-width="0.4"/>
<text x="460.5" y="221.3" font-size="3.9" fill="#333" text-anchor="middle" stroke="#333" stroke-width="0.12">0.2</text>
<line x1="474.0" y1="216.5" x2="474.0" y2="217.8" stroke="#555" stroke-width="0.4"/>
<text x="474.0" y="221.3" font-size="3.9" fill="#333" text-anchor="middle" stroke="#333" stroke-width="0.12">0.4</text>
<line x1="487.5" y1="216.5" x2="487.5" y2="217.8" stroke="#555" stroke-width="0.4"/>
<text x="487.5" y="221.3" font-size="3.9" fill="#333" text-anchor="middle" stroke="#333" stroke-width="0.12">0.6</text>
<line x1="501.0" y1="216.5" x2="501.0" y2="217.8" stroke="#555" stroke-width="0.4"/>
<text x="501.0" y="221.3" font-size="3.9" fill="#333" text-anchor="middle" stroke="#333" stroke-width="0.12">0.8</text>
<line x1="514.5" y1="216.5" x2="514.5" y2="217.8" stroke="#555" stroke-width="0.4"/>
<text x="514.5" y="221.3" font-size="3.9" fill="#333" text-anchor="middle" stroke="#333" stroke-width="0.12">1.0</text>
<polyline fill="none" stroke="#1f77c4" stroke-width="1.3" stroke-linejoin="round" points="460.50,206.79 461.04,206.42 461.58,207.38 462.12,204.86 462.66,205.28 463.20,204.86 463.74,203.21 464.28,202.90 464.82,202.18 465.36,200.83 465.90,201.21 466.44,198.90 466.98,197.68 467.52,194.82 468.06,193.09 468.60,192.65 469.14,190.29 469.68,189.05 470.22,186.13 470.76,182.90 471.30,180.28 471.84,178.83 472.38,176.84 472.92,174.35 473.46,170.70 474.00,168.03 474.54,169.12 475.08,167.95 475.62,170.19 476.16,170.86 476.70,173.10 477.24,174.94 477.78,178.33 478.32,180.72 478.86,182.72 479.40,186.29 479.94,186.98 480.48,189.75 481.02,189.89 481.56,191.33 482.10,192.17 482.64,191.99 483.18,192.58 483.72,192.93 484.26,193.01 484.80,192.88 485.34,193.80 485.88,193.79 486.42,192.94 486.96,193.03 487.50,193.39 488.04,192.85 488.58,193.59 489.12,193.30 489.66,194.96 490.20,194.15 490.74,194.34 491.28,194.49 491.82,196.15 492.36,196.52 492.90,195.57 493.44,197.55 493.98,196.32 494.52,197.10 495.06,199.32 495.60,199.66 496.14,199.16 496.68,200.73 497.22,201.61 497.76,200.46 498.30,201.76 498.84,201.28 499.38,202.97 499.92,202.54 500.46,202.08 501.00,203.68 501.54,203.40 502.08,202.45 502.62,202.05 503.16,202.02 503.70,203.99 504.24,203.23 504.78,202.77 505.32,203.43 505.86,203.14 506.40,204.36 506.94,204.76 507.48,204.83 508.02,205.16 508.56,204.21 509.10,204.49 509.64,204.57 510.18,205.71 510.72,205.83 511.26,205.99 511.80,204.78 512.34,204.64 512.88,204.95 513.42,206.93 513.96,207.14 514.50,205.30 515.04,206.48 515.58,205.92 516.12,206.99 516.66,206.79 517.20,206.78 517.74,207.06 518.28,206.78 518.82,208.16 519.36,206.73 519.90,206.49 520.44,208.03 520.98,207.49 521.52,206.92 522.06,207.71 522.60,208.22 523.14,208.32"/>
<polyline fill="none" stroke="#ffa533" stroke-width="1.3" stroke-linejoin="round" points="460.50,210.91 461.04,211.13 461.58,210.03 462.12,209.56 462.66,208.96 463.20,208.03 463.74,207.31 464.28,206.51 464.82,205.31 465.36,204.32 465.90,202.75 466.44,201.44 466.98,200.18 467.52,197.72 468.06,195.77 468.60,193.52 469.14,191.18 469.68,189.03 470.22,185.74 470.76,182.62 471.30,179.52 471.84,176.23 472.38,173.01 472.92,169.39 473.46,165.14 474.00,162.44 474.54,160.53 475.08,160.58 475.62,161.86 476.16,162.94 476.70,164.34 477.24,166.97 477.78,171.15 478.32,174.65 478.86,178.28 479.40,181.66 479.94,184.43 480.48,187.26 481.02,189.56 481.56,191.28 482.10,192.05 482.64,193.45 483.18,194.31 483.72,194.95 484.26,195.22 484.80,196.33 485.34,196.08 485.88,196.18 486.42,196.75 486.96,196.79 487.50,197.25 488.04,197.32 488.58,197.41 489.12,197.94 489.66,198.21 490.20,198.14 490.74,198.97 491.28,199.58 491.82,199.81 492.36,200.76 492.90,201.03 493.44,201.94 493.98,202.38 494.52,203.52 495.06,203.57 495.60,203.84 496.14,204.78 496.68,204.39 497.22,205.35 497.76,205.41 498.30,205.97 498.84,205.99 499.38,206.18 499.92,206.91 500.46,206.44 501.00,207.12 501.54,207.28 502.08,207.46 502.62,207.88 503.16,208.17 503.70,208.08 504.24,208.37 504.78,208.80 505.32,208.65 505.86,209.20 506.40,209.64 506.94,209.66 507.48,210.04 508.02,210.15 508.56,209.86 509.10,210.36 509.64,210.13 510.18,210.43 510.72,211.17 511.26,210.55 511.80,210.73 512.34,211.57 512.88,210.98 513.42,211.45 513.96,211.47 514.50,211.10 515.04,211.72 515.58,211.52 516.12,211.20 516.66,211.40 517.20,211.63 517.74,211.23 518.28,211.39 518.82,211.58 519.36,212.00 519.90,211.59 520.44,211.75 520.98,211.97 521.52,212.10 522.06,211.71 522.60,212.05 523.14,211.79"/>
<polyline fill="none" stroke="#d81e4a" stroke-opacity="0.88" stroke-width="1.3" stroke-linejoin="round" points="460.50,205.88 461.04,206.22 461.58,206.36 462.12,205.24 462.66,205.05 463.20,203.61 463.74,203.42 464.28,201.59 464.82,200.85 465.36,200.45 465.90,200.58 466.44,199.63 466.98,196.46 467.52,195.07 468.06,193.66 468.60,192.40 469.14,190.72 469.68,187.84 470.22,185.84 470.76,183.37 471.30,180.88 471.84,178.38 472.38,177.58 472.92,175.21 473.46,171.48 474.00,170.09 474.54,169.67 475.08,171.51 475.62,171.47 476.16,171.44 476.70,173.13 477.24,175.46 477.78,179.07 478.32,180.43 478.86,183.94 479.40,186.26 479.94,186.94 480.48,188.54 481.02,189.21 481.56,190.50 482.10,190.87 482.64,191.92 483.18,191.96 483.72,191.29 484.26,191.24 484.80,193.05 485.34,193.05 485.88,191.62 486.42,192.12 486.96,191.91 487.50,193.26 488.04,192.97 488.58,193.55 489.12,192.62 489.66,193.91 490.20,193.64 490.74,193.28 491.28,195.13 491.82,195.05 492.36,195.01 492.90,195.02 493.44,196.54 493.98,197.15 494.52,198.25 495.06,197.06 495.60,199.35 496.14,199.86 496.68,199.31 497.22,199.97 497.76,199.97 498.30,201.20 498.84,200.47 499.38,202.26 499.92,202.16 500.46,201.35 501.00,202.79 501.54,202.45 502.08,201.66 502.62,201.85 503.16,202.88 503.70,203.30 504.24,202.94 504.78,202.25 505.32,203.15 505.86,203.83 506.40,202.66 506.94,203.11 507.48,202.50 508.02,202.61 508.56,202.83 509.10,204.05 509.64,203.42 510.18,204.69 510.72,204.83 511.26,204.82 511.80,203.81 512.34,204.05 512.88,205.63 513.42,205.52 513.96,205.64 514.50,205.77 515.04,205.82 515.58,205.95 516.12,206.48 516.66,205.78 517.20,205.38 517.74,206.05 518.28,205.50 518.82,206.20 519.36,207.14 519.90,205.95 520.44,205.77 520.98,207.18 521.52,207.83 522.06,206.82 522.60,206.82 523.14,206.84"/>
<text x="476.1" y="226" font-size="5.3" fill="#333" textLength="35.5" lengthAdjust="spacingAndGlyphs" stroke="#333" stroke-width="0.15">Energy loss (eV)</text>
<text transform="translate(448.1 185.8) rotate(-90)" font-size="4.8" fill="#333" stroke="#333" stroke-width="0.15" text-anchor="middle" textLength="37" lengthAdjust="spacingAndGlyphs">Signal (arb. units)</text>
<rect x="302.3" y="230.1" width="68.89999999999998" height="59.099999999999994" fill="none" stroke="#c4c4c4" stroke-width="0.5"/>
<line x1="301.0" y1="286.1" x2="302.3" y2="286.1" stroke="#555" stroke-width="0.4"/>
<text x="300.5" y="287.5" font-size="3.9" fill="#333" text-anchor="end" stroke="#333" stroke-width="0.12">200</text>
<line x1="301.0" y1="275.4" x2="302.3" y2="275.4" stroke="#555" stroke-width="0.4"/>
<text x="300.5" y="276.8" font-size="3.9" fill="#333" text-anchor="end" stroke="#333" stroke-width="0.12">300</text>
<line x1="301.0" y1="264.7" x2="302.3" y2="264.7" stroke="#555" stroke-width="0.4"/>
<text x="300.5" y="266.1" font-size="3.9" fill="#333" text-anchor="end" stroke="#333" stroke-width="0.12">400</text>
<line x1="301.0" y1="254.0" x2="302.3" y2="254.0" stroke="#555" stroke-width="0.4"/>
<text x="300.5" y="255.4" font-size="3.9" fill="#333" text-anchor="end" stroke="#333" stroke-width="0.12">500</text>
<line x1="301.0" y1="243.3" x2="302.3" y2="243.3" stroke="#555" stroke-width="0.4"/>
<text x="300.5" y="244.7" font-size="3.9" fill="#333" text-anchor="end" stroke="#333" stroke-width="0.12">600</text>
<line x1="301.0" y1="232.6" x2="302.3" y2="232.6" stroke="#555" stroke-width="0.4"/>
<text x="300.5" y="234.0" font-size="3.9" fill="#333" text-anchor="end" stroke="#333" stroke-width="0.12">700</text>
<line x1="305.3" y1="289.2" x2="305.3" y2="290.5" stroke="#555" stroke-width="0.4"/>
<text x="305.3" y="294.0" font-size="3.9" fill="#333" text-anchor="middle" stroke="#333" stroke-width="0.12">0.2</text>
<line x1="318.5" y1="289.2" x2="318.5" y2="290.5" stroke="#555" stroke-width="0.4"/>
<text x="318.5" y="294.0" font-size="3.9" fill="#333" text-anchor="middle" stroke="#333" stroke-width="0.12">0.4</text>
<line x1="331.7" y1="289.2" x2="331.7" y2="290.5" stroke="#555" stroke-width="0.4"/>
<text x="331.7" y="294.0" font-size="3.9" fill="#333" text-anchor="middle" stroke="#333" stroke-width="0.12">0.6</text>
<line x1="344.9" y1="289.2" x2="344.9" y2="290.5" stroke="#555" stroke-width="0.4"/>
<text x="344.9" y="294.0" font-size="3.9" fill="#333" text-anchor="middle" stroke="#333" stroke-width="0.12">0.8</text>
<line x1="358.1" y1="289.2" x2="358.1" y2="290.5" stroke="#555" stroke-width="0.4"/>
<text x="358.1" y="294.0" font-size="3.9" fill="#333" text-anchor="middle" stroke="#333" stroke-width="0.12">1.0</text>
<polyline fill="none" stroke="#1f77c4" stroke-width="1.3" stroke-linejoin="round" points="305.30,282.59 305.83,282.58 306.36,282.18 306.88,282.28 307.41,281.51 307.94,280.85 308.47,280.74 309.00,280.14 309.52,279.10 310.05,278.30 310.58,278.00 311.11,276.71 311.64,275.99 312.16,274.48 312.69,273.35 313.22,272.35 313.75,270.97 314.28,269.03 314.80,267.45 315.33,265.44 315.86,263.76 316.39,261.85 316.92,259.52 317.44,257.77 317.97,255.81 318.50,253.66 319.03,251.48 319.56,249.59 320.08,247.74 320.61,246.23 321.14,244.15 321.67,242.73 322.20,241.61 322.72,241.42 323.25,242.02 323.78,243.23 324.31,244.84 324.84,246.88 325.36,248.75 325.89,250.39 326.42,252.39 326.95,254.82 327.48,256.95 328.00,259.01 328.53,260.13 329.06,261.36 329.59,263.08 330.12,264.44 330.64,265.53 331.17,266.35 331.70,267.22 332.23,267.39 332.76,268.48 333.28,268.76 333.81,269.28 334.34,269.29 334.87,269.54 335.40,270.22 335.92,270.59 336.45,270.64 336.98,270.86 337.51,270.98 338.04,271.89 338.56,272.16 339.09,272.43 339.62,272.73 340.15,273.06 340.68,273.13 341.20,273.65 341.73,274.44 342.26,275.12 342.79,275.79 343.32,276.63 343.84,277.04 344.37,278.09 344.90,278.67 345.43,279.15 345.96,279.91 346.48,280.48 347.01,280.34 347.54,280.53 348.07,281.10 348.60,281.15 349.12,281.05 349.65,281.51 350.18,281.83 350.71,282.07 351.24,281.62 351.76,281.83 352.29,282.21 352.82,282.22 353.35,282.32 353.88,282.57 354.40,282.19 354.93,282.48 355.46,282.83 355.99,283.05 356.52,282.82 357.04,282.95 357.57,282.75 358.10,282.87 358.63,283.00 359.16,283.35 359.68,283.42 360.21,283.37 360.74,283.47 361.27,283.13 361.80,283.41 362.32,283.39 362.85,283.20 363.38,283.71 363.91,283.58 364.44,283.86 364.96,283.50 365.49,284.02 366.02,283.51 366.55,283.51"/>
<polyline fill="none" stroke="#ffa533" stroke-width="1.3" stroke-linejoin="round" points="305.30,284.71 305.83,284.59 306.36,284.10 306.88,283.46 307.41,283.10 307.94,282.37 308.47,281.73 309.00,280.89 309.52,280.29 310.05,279.45 310.58,278.80 311.11,277.74 311.64,276.86 312.16,275.62 312.69,274.69 313.22,273.16 313.75,271.85 314.28,269.96 314.80,267.97 315.33,265.92 315.86,263.39 316.39,261.17 316.92,258.74 317.44,256.23 317.97,253.18 318.50,250.00 319.03,246.87 319.56,244.28 320.08,241.93 320.61,239.82 321.14,237.49 321.67,235.52 322.20,233.93 322.72,233.27 323.25,233.54 323.78,234.71 324.31,236.09 324.84,237.81 325.36,239.91 325.89,242.04 326.42,245.19 326.95,248.88 327.48,252.07 328.00,255.11 328.53,257.43 329.06,259.18 329.59,261.03 330.12,262.59 330.64,263.94 331.17,265.22 331.70,266.19 332.23,266.92 332.76,267.45 333.28,268.11 333.81,268.60 334.34,268.85 334.87,269.36 335.40,269.52 335.92,270.00 336.45,270.32 336.98,270.84 337.51,271.11 338.04,271.82 338.56,272.29 339.09,272.80 339.62,273.11 340.15,273.62 340.68,274.32 341.20,274.79 341.73,275.23 342.26,275.97 342.79,276.84 343.32,277.55 343.84,278.33 344.37,279.08 344.90,279.70 345.43,280.46 345.96,280.75 346.48,281.37 347.01,281.68 347.54,281.91 348.07,282.14 348.60,282.38 349.12,282.76 349.65,283.01 350.18,283.19 350.71,283.52 351.24,283.59 351.76,283.67 352.29,283.74 352.82,283.96 353.35,284.14 353.88,284.29 354.40,284.60 354.93,284.61 355.46,284.71 355.99,284.70 356.52,284.96 357.04,284.96 357.57,284.99 358.10,284.98 358.63,285.05 359.16,285.19 359.68,285.41 360.21,285.28 360.74,285.30 361.27,285.48 361.80,285.60 362.32,285.61 362.85,285.78 363.38,285.64 363.91,285.59 364.44,285.78 364.96,285.75 365.49,285.74 366.02,285.96 366.55,285.74"/>
<polyline fill="none" stroke="#d81e4a" stroke-opacity="0.88" stroke-width="1.3" stroke-linejoin="round" points="305.30,282.81 305.83,282.87 306.36,282.65 306.88,282.16 307.41,281.49 307.94,280.91 308.47,280.58 309.00,279.60 309.52,279.34 310.05,278.57 310.58,277.96 311.11,276.47 311.64,275.97 312.16,274.36 312.69,273.40 313.22,272.15 313.75,270.79 314.28,269.44 314.80,267.36 315.33,265.54 315.86,263.84 316.39,262.15 316.92,260.67 317.44,258.43 317.97,256.85 318.50,254.52 319.03,253.10 319.56,251.24 320.08,249.68 320.61,248.66 321.14,247.05 321.67,246.21 322.20,245.50 322.72,245.24 323.25,245.15 323.78,246.06 324.31,247.42 324.84,249.00 325.36,250.14 325.89,251.54 326.42,253.58 326.95,255.45 327.48,257.30 328.00,259.57 328.53,260.85 329.06,261.99 329.59,263.44 330.12,264.44 330.64,265.37 331.17,266.55 331.70,267.08 332.23,267.84 332.76,268.13 333.28,268.70 333.81,268.87 334.34,269.59 334.87,269.49 335.40,270.12 335.92,269.89 336.45,270.43 336.98,270.86 337.51,271.29 338.04,271.59 338.56,272.02 339.09,272.47 339.62,273.00 340.15,273.70 340.68,273.92 341.20,274.55 341.73,275.09 342.26,275.98 342.79,276.61 343.32,277.20 343.84,277.65 344.37,278.54 344.90,279.16 345.43,279.77 345.96,279.93 346.48,280.67 347.01,281.09 347.54,280.85 348.07,280.93 348.60,281.20 349.12,281.45 349.65,281.50 350.18,281.92 350.71,281.86 351.24,282.32 351.76,282.39 352.29,282.29 352.82,282.35 353.35,282.51 353.88,282.81 354.40,282.48 354.93,282.67 355.46,282.93 355.99,282.96 356.52,282.98 357.04,283.15 357.57,283.33 358.10,282.86 358.63,282.89 359.16,283.15 359.68,283.09 360.21,283.44 360.74,283.25 361.27,283.69 361.80,283.41 362.32,283.58 362.85,283.41 363.38,283.98 363.91,283.58 364.44,284.05 364.96,283.82 365.49,283.59 366.02,284.23 366.55,284.10"/>
<text x="317.7" y="299.3" font-size="5.3" fill="#333" textLength="36.2" lengthAdjust="spacingAndGlyphs" stroke="#333" stroke-width="0.15">Energy loss (eV)</text>
<text transform="translate(292.1 256.6) rotate(-90)" font-size="4.8" fill="#333" stroke="#333" stroke-width="0.15" text-anchor="middle" textLength="37" lengthAdjust="spacingAndGlyphs">Signal (arb. units)</text>
<rect x="458.5" y="229.75" width="67.89999999999998" height="59.44999999999999" fill="none" stroke="#c4c4c4" stroke-width="0.5"/>
<line x1="457.2" y1="285.6" x2="458.5" y2="285.6" stroke="#555" stroke-width="0.4"/>
<text x="456.7" y="287.0" font-size="3.9" fill="#333" text-anchor="end" stroke="#333" stroke-width="0.12">200</text>
<line x1="457.2" y1="276.0" x2="458.5" y2="276.0" stroke="#555" stroke-width="0.4"/>
<text x="456.7" y="277.4" font-size="3.9" fill="#333" text-anchor="end" stroke="#333" stroke-width="0.12">250</text>
<line x1="457.2" y1="266.4" x2="458.5" y2="266.4" stroke="#555" stroke-width="0.4"/>
<text x="456.7" y="267.8" font-size="3.9" fill="#333" text-anchor="end" stroke="#333" stroke-width="0.12">300</text>
<line x1="457.2" y1="256.8" x2="458.5" y2="256.8" stroke="#555" stroke-width="0.4"/>
<text x="456.7" y="258.2" font-size="3.9" fill="#333" text-anchor="end" stroke="#333" stroke-width="0.12">350</text>
<line x1="457.2" y1="247.2" x2="458.5" y2="247.2" stroke="#555" stroke-width="0.4"/>
<text x="456.7" y="248.6" font-size="3.9" fill="#333" text-anchor="end" stroke="#333" stroke-width="0.12">400</text>
<line x1="457.2" y1="237.6" x2="458.5" y2="237.6" stroke="#555" stroke-width="0.4"/>
<text x="456.7" y="239.0" font-size="3.9" fill="#333" text-anchor="end" stroke="#333" stroke-width="0.12">450</text>
<line x1="461.0" y1="289.2" x2="461.0" y2="290.5" stroke="#555" stroke-width="0.4"/>
<text x="461.0" y="294.0" font-size="3.9" fill="#333" text-anchor="middle" stroke="#333" stroke-width="0.12">0.2</text>
<line x1="474.4" y1="289.2" x2="474.4" y2="290.5" stroke="#555" stroke-width="0.4"/>
<text x="474.4" y="294.0" font-size="3.9" fill="#333" text-anchor="middle" stroke="#333" stroke-width="0.12">0.4</text>
<line x1="487.8" y1="289.2" x2="487.8" y2="290.5" stroke="#555" stroke-width="0.4"/>
<text x="487.8" y="294.0" font-size="3.9" fill="#333" text-anchor="middle" stroke="#333" stroke-width="0.12">0.6</text>
<line x1="501.1" y1="289.2" x2="501.1" y2="290.5" stroke="#555" stroke-width="0.4"/>
<text x="501.1" y="294.0" font-size="3.9" fill="#333" text-anchor="middle" stroke="#333" stroke-width="0.12">0.8</text>
<line x1="514.5" y1="289.2" x2="514.5" y2="290.5" stroke="#555" stroke-width="0.4"/>
<text x="514.5" y="294.0" font-size="3.9" fill="#333" text-anchor="middle" stroke="#333" stroke-width="0.12">1.0</text>
<polyline fill="none" stroke="#1f77c4" stroke-width="1.3" stroke-linejoin="round" points="461.00,277.42 461.54,277.33 462.07,277.83 462.61,275.75 463.14,275.72 463.68,276.43 464.21,276.22 464.75,275.35 465.28,276.23 465.82,275.82 466.35,273.10 466.89,273.50 467.42,271.91 467.96,269.62 468.49,268.16 469.03,267.92 469.56,267.12 470.10,265.31 470.63,262.07 471.17,260.22 471.70,259.88 472.24,256.46 472.77,255.71 473.31,253.65 473.84,252.37 474.38,248.76 474.92,246.74 475.45,247.30 475.99,245.67 476.52,246.20 477.06,244.20 477.59,245.80 478.13,245.48 478.66,244.00 479.20,245.24 479.73,244.56 480.27,245.60 480.80,247.10 481.34,249.66 481.87,249.83 482.41,251.39 482.94,254.99 483.48,258.25 484.01,259.95 484.55,261.14 485.08,261.42 485.62,263.73 486.15,264.77 486.69,265.52 487.22,265.25 487.76,265.52 488.30,266.87 488.83,266.50 489.37,266.24 489.90,267.12 490.44,268.13 490.97,268.12 491.51,266.84 492.04,267.61 492.58,268.72 493.11,268.12 493.65,269.69 494.18,268.04 494.72,269.80 495.25,270.19 495.79,270.83 496.32,272.61 496.86,271.99 497.39,273.34 497.93,273.97 498.46,273.17 499.00,275.26 499.53,275.25 500.07,274.60 500.60,276.19 501.14,276.49 501.68,276.21 502.21,277.34 502.75,275.95 503.28,275.92 503.82,278.29 504.35,277.46 504.89,276.93 505.42,277.91 505.96,276.77 506.49,277.88 507.03,278.72 507.56,277.96 508.10,277.85 508.63,278.59 509.17,277.99 509.70,277.79 510.24,278.49 510.77,278.60 511.31,277.90 511.84,278.36 512.38,278.83 512.91,277.93 513.45,279.82 513.98,278.51 514.52,280.02 515.06,279.09 515.59,280.03 516.13,279.65 516.66,278.96 517.20,279.02 517.73,279.09 518.27,280.45 518.80,279.95 519.34,280.64 519.87,279.89 520.41,280.16 520.94,281.30 521.48,280.08 522.01,279.88 522.55,280.27 523.08,279.65"/>
<polyline fill="none" stroke="#ffa533" stroke-width="1.3" stroke-linejoin="round" points="461.00,284.63 461.54,284.48 462.07,284.26 462.61,283.58 463.14,283.12 463.68,282.55 464.21,282.02 464.75,281.03 465.28,280.74 465.82,279.51 466.35,278.80 466.89,277.76 467.42,276.43 467.96,275.42 468.49,274.01 469.03,272.34 469.56,270.74 470.10,268.40 470.63,265.67 471.17,262.90 471.70,260.08 472.24,256.88 472.77,254.22 473.31,250.94 473.84,248.14 474.38,244.84 474.92,241.88 475.45,239.15 475.99,237.41 476.52,235.95 477.06,235.04 477.59,233.76 478.13,233.09 478.66,232.97 479.20,232.95 479.73,234.45 480.27,235.56 480.80,237.03 481.34,238.62 481.87,241.12 482.41,243.79 482.94,246.92 483.48,250.61 484.01,253.34 484.55,255.06 485.08,257.38 485.62,259.01 486.15,260.70 486.69,262.08 487.22,263.52 487.76,264.54 488.30,264.74 488.83,265.49 489.37,266.04 489.90,266.80 490.44,267.20 490.97,267.41 491.51,267.96 492.04,268.20 492.58,268.33 493.11,269.11 493.65,269.63 494.18,269.84 494.72,270.68 495.25,271.66 495.79,272.13 496.32,272.67 496.86,273.69 497.39,274.17 497.93,274.58 498.46,275.04 499.00,275.74 499.53,276.13 500.07,276.91 500.60,277.47 501.14,277.71 501.68,278.43 502.21,278.60 502.75,279.28 503.28,279.49 503.82,279.85 504.35,279.89 504.89,280.35 505.42,280.55 505.96,280.76 506.49,280.81 507.03,281.10 507.56,281.20 508.10,281.06 508.63,281.40 509.17,281.46 509.70,281.99 510.24,282.03 510.77,282.36 511.31,282.14 511.84,282.47 512.38,282.66 512.91,282.94 513.45,282.98 513.98,283.07 514.52,283.12 515.06,282.95 515.59,283.19 516.13,283.57 516.66,283.64 517.20,283.88 517.73,283.54 518.27,283.99 518.80,283.86 519.34,283.99 519.87,283.98 520.41,284.59 520.94,284.51 521.48,284.56 522.01,284.82 522.55,284.44 523.08,284.83"/>
<polyline fill="none" stroke="#d81e4a" stroke-opacity="0.88" stroke-width="1.3" stroke-linejoin="round" points="461.00,278.90 461.54,279.04 462.07,279.36 462.61,278.49 463.14,278.21 463.68,277.91 464.21,277.14 464.75,275.88 465.28,275.94 465.82,274.81 466.35,273.75 466.89,272.52 467.42,271.88 467.96,269.83 468.49,269.06 469.03,267.01 469.56,265.62 470.10,264.65 470.63,262.76 471.17,260.73 471.70,258.16 472.24,256.57 472.77,254.64 473.31,252.06 473.84,250.73 474.38,248.41 474.92,246.33 475.45,244.99 475.99,244.38 476.52,243.71 477.06,242.30 477.59,241.92 478.13,241.30 478.66,241.00 479.20,242.26 479.73,242.57 480.27,243.37 480.80,245.65 481.34,246.41 481.87,248.03 482.41,249.83 482.94,252.42 483.48,255.70 484.01,257.20 484.55,259.34 485.08,260.10 485.62,261.24 486.15,262.68 486.69,263.12 487.22,263.96 487.76,264.39 488.30,265.23 488.83,265.87 489.37,265.95 489.90,266.22 490.44,266.96 490.97,266.61 491.51,267.48 492.04,268.00 492.58,268.00 493.11,268.26 493.65,269.04 494.18,268.92 494.72,269.27 495.25,270.01 495.79,270.36 496.32,271.84 496.86,271.90 497.39,272.48 497.93,273.40 498.46,273.43 499.00,274.39 499.53,274.31 500.07,274.69 500.60,275.34 501.14,276.00 501.68,276.51 502.21,277.19 502.75,277.05 503.28,276.54 503.82,277.18 504.35,277.77 504.89,277.40 505.42,278.21 505.96,277.98 506.49,277.92 507.03,277.60 507.56,278.52 508.10,278.35 508.63,277.96 509.17,278.30 509.70,278.60 510.24,278.71 510.77,279.09 511.31,279.18 511.84,279.47 512.38,278.82 512.91,278.85 513.45,279.62 513.98,279.01 514.52,280.28 515.06,280.24 515.59,279.83 516.13,280.19 516.66,280.21 517.20,279.47 517.73,280.67 518.27,280.69 518.80,280.72 519.34,280.20 519.87,280.87 520.41,281.26 520.94,280.60 521.48,280.87 522.01,281.14 522.55,280.86 523.08,280.71"/>
<text x="476.1" y="298.5" font-size="5.3" fill="#333" textLength="35.5" lengthAdjust="spacingAndGlyphs" stroke="#333" stroke-width="0.15">Energy loss (eV)</text>
<text transform="translate(448.1 259.8) rotate(-90)" font-size="4.8" fill="#333" stroke="#333" stroke-width="0.15" text-anchor="middle" textLength="37" lengthAdjust="spacingAndGlyphs">Signal (arb. units)</text>
<line x1="227" y1="299.4" x2="238.6" y2="299.4" stroke="#1f77c4" stroke-width="1.3"/>
<text x="242.2" y="301.1" font-size="5.3" fill="#2a2a2a" textLength="34" lengthAdjust="spacingAndGlyphs" stroke="#2a2a2a" stroke-width="0.18">Ground truth</text>
<line x1="227" y1="306.4" x2="238.6" y2="306.4" stroke="#ffa533" stroke-width="1.3"/>
<text x="242.2" y="308.1" font-size="5.3" fill="#2a2a2a" textLength="37.6" lengthAdjust="spacingAndGlyphs" stroke="#2a2a2a" stroke-width="0.18">Prediction (2L)</text>
<line x1="227" y1="313.6" x2="238.6" y2="313.6" stroke="#e2406a" stroke-width="1.3"/>
<text x="242.2" y="315.3" font-size="5.3" fill="#2a2a2a" textLength="41.2" lengthAdjust="spacingAndGlyphs" stroke="#2a2a2a" stroke-width="0.18">Prediction (10L)</text>
</svg>
</body></html>
